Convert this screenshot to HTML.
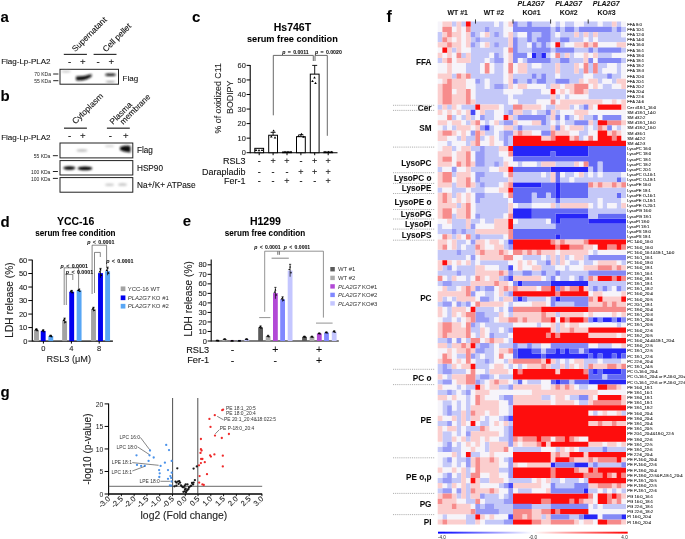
<!DOCTYPE html>
<html><head><meta charset="utf-8"><title>Figure</title>
<style>
html,body{margin:0;padding:0;background:#fff;}
body{width:685px;height:539px;overflow:hidden;}
svg{display:block;font-family:"Liberation Sans",sans-serif;}
</style></head>
<body>
<svg width="685" height="539" viewBox="0 0 685 539">
<defs><filter id="gb" x="0" y="0" width="100%" height="100%" filterUnits="userSpaceOnUse"><feGaussianBlur stdDeviation="0.6"/></filter></defs>
<rect width="685" height="539" fill="#fff"/>
<g filter="url(#gb)">
<text x="0.5" y="21.5" font-size="15" font-weight="bold" stroke="#000" stroke-width="0.06">a</text>
<text x="0.5" y="101.3" font-size="15" font-weight="bold" stroke="#000" stroke-width="0.06">b</text>
<text x="192.0" y="21.8" font-size="15" font-weight="bold" stroke="#000" stroke-width="0.06">c</text>
<text x="0.5" y="226.6" font-size="15" font-weight="bold" stroke="#000" stroke-width="0.06">d</text>
<text x="182.8" y="226.4" font-size="15" font-weight="bold" stroke="#000" stroke-width="0.06">e</text>
<text x="0.5" y="397.3" font-size="15" font-weight="bold" stroke="#000" stroke-width="0.06">g</text>
<text x="386.6" y="22.4" font-size="16" font-weight="bold" stroke="#000" stroke-width="0.06">f</text>
<text transform="translate(75.3,52.3) rotate(-45)" font-size="8.3" fill="#111" stroke="#111" stroke-width="0.1">Supernatant</text>
<text transform="translate(105.9,52.5) rotate(-45)" font-size="8.3" fill="#111" stroke="#111" stroke-width="0.1">Cell pellet</text>
<line x1="63.8" y1="54.4" x2="86.9" y2="54.4" stroke="#333" stroke-width="1.2" />
<line x1="93.6" y1="54.4" x2="116.5" y2="54.4" stroke="#333" stroke-width="1.2" />
<text x="1.2" y="64.2" font-size="8" fill="#111" stroke="#111" stroke-width="0.1">Flag-Lp-PLA2</text>
<text x="69.5" y="65.2" font-size="9.6" text-anchor="middle" fill="#111" stroke="#111" stroke-width="0.1">-</text>
<text x="82.8" y="65.2" font-size="9.6" text-anchor="middle" fill="#111" stroke="#111" stroke-width="0.1">+</text>
<text x="98.1" y="65.2" font-size="9.6" text-anchor="middle" fill="#111" stroke="#111" stroke-width="0.1">-</text>
<text x="111.4" y="65.2" font-size="9.6" text-anchor="middle" fill="#111" stroke="#111" stroke-width="0.1">+</text>
<defs><filter id="bl" x="-50%" y="-50%" width="200%" height="200%"><feGaussianBlur stdDeviation="0.9"/></filter><filter id="bl2" x="-50%" y="-50%" width="200%" height="200%"><feGaussianBlur stdDeviation="1.5"/></filter></defs>
<rect x="60.00" y="69.30" width="58.50" height="14.90" fill="#fff" stroke="#222" stroke-width="1" />
<g filter="url(#bl)">
<ellipse cx="66" cy="71.6" rx="5" ry="0.8" fill="#bbb"/>
<path d="M76 76.6 Q84 76.4 91.6 73.9 L91.6 76.6 Q85 81.6 76 80.2 Z" fill="#111"/>
<ellipse cx="110.5" cy="74.8" rx="5.5" ry="1.3" fill="#111"/>
<ellipse cx="110.5" cy="81.7" rx="5" ry="0.8" fill="#888"/>
</g>
<text x="51.0" y="76.1" font-size="5.0" text-anchor="end" fill="#222" stroke="#222" stroke-width="0.0">70 KDa</text>
<text x="51.0" y="82.8" font-size="5.0" text-anchor="end" fill="#222" stroke="#222" stroke-width="0.0">55 KDa</text>
<line x1="53.2" y1="74.0" x2="58.4" y2="74.0" stroke="#222" stroke-width="1.0" />
<line x1="53.2" y1="80.7" x2="58.4" y2="80.7" stroke="#222" stroke-width="1.0" />
<text x="122.6" y="80.6" font-size="8" fill="#111" stroke="#111" stroke-width="0.1">Flag</text>
<text transform="translate(75.6,124.6) rotate(-45)" font-size="8.4" fill="#111" stroke="#111" stroke-width="0.1">Cytoplasm</text>
<text transform="translate(113.0,124.9) rotate(-45)" font-size="8.3" fill="#111" stroke="#111" stroke-width="0.1">Plasma</text>
<text transform="translate(123.3,124.9) rotate(-45)" font-size="8.2" fill="#111" stroke="#111" stroke-width="0.1">membrane</text>
<line x1="64" y1="128.2" x2="86.9" y2="128.2" stroke="#444" stroke-width="1.4" />
<line x1="106.9" y1="128.2" x2="129.8" y2="128.2" stroke="#444" stroke-width="1.4" />
<text x="1.2" y="140.0" font-size="8" fill="#111" stroke="#111" stroke-width="0.1">Flag-Lp-PLA2</text>
<text x="69.5" y="139.0" font-size="9.6" text-anchor="middle" fill="#111" stroke="#111" stroke-width="0.1">-</text>
<text x="82.8" y="139.0" font-size="9.6" text-anchor="middle" fill="#111" stroke="#111" stroke-width="0.1">+</text>
<text x="110.4" y="139.0" font-size="9.6" text-anchor="middle" fill="#111" stroke="#111" stroke-width="0.1">-</text>
<text x="125.7" y="139.0" font-size="9.6" text-anchor="middle" fill="#111" stroke="#111" stroke-width="0.1">+</text>
<rect x="60.00" y="143.00" width="72.80" height="14.90" fill="#fff" stroke="#222" stroke-width="1" />
<rect x="60.00" y="160.60" width="72.80" height="14.40" fill="#fff" stroke="#222" stroke-width="1" />
<rect x="60.00" y="177.60" width="72.80" height="14.60" fill="#fff" stroke="#222" stroke-width="1" />
<g filter="url(#bl)">
<ellipse cx="82" cy="150.5" rx="5.5" ry="1.2" fill="#bbb"/>
<ellipse cx="109.5" cy="146.2" rx="4.5" ry="0.9" fill="#ccc"/>
<path d="M120 147 Q125 144.5 130.5 146 L130.5 152.5 Q124 152 120 150 Z" fill="#111"/>
<ellipse cx="69.3" cy="167.9" rx="6.0" ry="1.75" fill="#000"/>
<ellipse cx="85.0" cy="168.4" rx="7.3" ry="1.9" fill="#000"/>
<ellipse cx="109.5" cy="184.8" rx="4.5" ry="1.3" fill="#ccc"/>
<ellipse cx="122.5" cy="184.5" rx="4.5" ry="1.6" fill="#ccc"/>
</g>
<text x="50.4" y="157.8" font-size="5.0" text-anchor="end" fill="#222" stroke="#222" stroke-width="0.0">55 KDa</text>
<text x="50.4" y="173.6" font-size="5.0" text-anchor="end" fill="#222" stroke="#222" stroke-width="0.0">100 KDa</text>
<text x="50.4" y="180.6" font-size="5.0" text-anchor="end" fill="#222" stroke="#222" stroke-width="0.0">100 KDa</text>
<line x1="52.9" y1="155.7" x2="57.9" y2="155.7" stroke="#222" stroke-width="1.0" />
<line x1="52.9" y1="171.5" x2="57.9" y2="171.5" stroke="#222" stroke-width="1.0" />
<line x1="52.9" y1="178.4" x2="57.9" y2="178.4" stroke="#222" stroke-width="1.0" />
<text x="137" y="153.2" font-size="8.2" fill="#111" stroke="#111" stroke-width="0.1">Flag</text>
<text x="137" y="170.6" font-size="8.2" fill="#111" stroke="#111" stroke-width="0.1">HSP90</text>
<text x="137" y="188.0" font-size="8.25" fill="#111" stroke="#111" stroke-width="0.1">Na+/K+ ATPase</text>
<text x="292.4" y="30.6" font-size="10.5" font-weight="bold" text-anchor="middle" stroke="#000" stroke-width="0.06">Hs746T</text>
<text x="292.4" y="42.0" font-size="9.2" font-weight="bold" text-anchor="middle" stroke="#000" stroke-width="0.06">serum free condition</text>
<line x1="250.2" y1="65.0" x2="250.2" y2="153.2" stroke="#000" stroke-width="1.1" />
<line x1="246.6" y1="152.7" x2="250.2" y2="152.7" stroke="#000" stroke-width="1" />
<text x="245.79999999999998" y="155.29999999999998" font-size="7.4" text-anchor="end" fill="#222" stroke="#222" stroke-width="0.1">0</text>
<line x1="246.6" y1="138.14999999999998" x2="250.2" y2="138.14999999999998" stroke="#000" stroke-width="1" />
<text x="245.79999999999998" y="140.74999999999997" font-size="7.4" text-anchor="end" fill="#222" stroke="#222" stroke-width="0.1">10</text>
<line x1="246.6" y1="123.6" x2="250.2" y2="123.6" stroke="#000" stroke-width="1" />
<text x="245.79999999999998" y="126.19999999999999" font-size="7.4" text-anchor="end" fill="#222" stroke="#222" stroke-width="0.1">20</text>
<line x1="246.6" y1="109.04999999999998" x2="250.2" y2="109.04999999999998" stroke="#000" stroke-width="1" />
<text x="245.79999999999998" y="111.64999999999998" font-size="7.4" text-anchor="end" fill="#222" stroke="#222" stroke-width="0.1">30</text>
<line x1="246.6" y1="94.5" x2="250.2" y2="94.5" stroke="#000" stroke-width="1" />
<text x="245.79999999999998" y="97.1" font-size="7.4" text-anchor="end" fill="#222" stroke="#222" stroke-width="0.1">40</text>
<line x1="246.6" y1="79.95" x2="250.2" y2="79.95" stroke="#000" stroke-width="1" />
<text x="245.79999999999998" y="82.55" font-size="7.4" text-anchor="end" fill="#222" stroke="#222" stroke-width="0.1">50</text>
<line x1="246.6" y1="65.39999999999999" x2="250.2" y2="65.39999999999999" stroke="#000" stroke-width="1" />
<text x="245.79999999999998" y="67.99999999999999" font-size="7.4" text-anchor="end" fill="#222" stroke="#222" stroke-width="0.1">60</text>
<line x1="250.2" y1="152.7" x2="337.5" y2="152.7" stroke="#000" stroke-width="1.1" />
<text transform="translate(221.0,98.3) rotate(-90)" font-size="8.8" text-anchor="middle" fill="#222" stroke="#222" stroke-width="0.1">% of oxidized C11</text>
<text transform="translate(232.8,97.3) rotate(-90)" font-size="8.8" text-anchor="middle" fill="#222" stroke="#222" stroke-width="0.1">BODIPY</text>
<rect x="254.80" y="148.33" width="8.80" height="4.37" fill="#fff" stroke="#000" stroke-width="1" />
<line x1="259.2" y1="152.7" x2="259.2" y2="155.2" stroke="#000" stroke-width="1" />
<rect x="268.70" y="135.24" width="8.80" height="17.46" fill="#fff" stroke="#000" stroke-width="1" />
<line x1="273.1" y1="135.23999999999998" x2="273.1" y2="132.32999999999998" stroke="#000" stroke-width="0.9" />
<line x1="270.6" y1="132.32999999999998" x2="275.6" y2="132.32999999999998" stroke="#000" stroke-width="0.9" />
<line x1="273.1" y1="152.7" x2="273.1" y2="155.2" stroke="#000" stroke-width="1" />
<rect x="282.60" y="151.97" width="8.80" height="0.73" fill="#fff" stroke="#000" stroke-width="1" />
<line x1="287.0" y1="152.7" x2="287.0" y2="155.2" stroke="#000" stroke-width="1" />
<rect x="296.50" y="136.69" width="8.80" height="16.00" fill="#fff" stroke="#000" stroke-width="1" />
<line x1="300.9" y1="136.695" x2="300.9" y2="134.80349999999999" stroke="#000" stroke-width="0.9" />
<line x1="298.4" y1="134.80349999999999" x2="303.4" y2="134.80349999999999" stroke="#000" stroke-width="0.9" />
<line x1="300.9" y1="152.7" x2="300.9" y2="155.2" stroke="#000" stroke-width="1" />
<rect x="310.30" y="74.13" width="8.80" height="78.57" fill="#fff" stroke="#000" stroke-width="1" />
<line x1="314.7" y1="74.13" x2="314.7" y2="65.39999999999999" stroke="#000" stroke-width="0.9" />
<line x1="312.2" y1="65.39999999999999" x2="317.2" y2="65.39999999999999" stroke="#000" stroke-width="0.9" />
<line x1="314.7" y1="152.7" x2="314.7" y2="155.2" stroke="#000" stroke-width="1" />
<rect x="323.80" y="151.97" width="8.80" height="0.73" fill="#fff" stroke="#000" stroke-width="1" />
<line x1="328.2" y1="152.7" x2="328.2" y2="155.2" stroke="#000" stroke-width="1" />
<path d="M254.7,151.0 L257.3,151.0 L256,148.8 Z" fill="#000"/>
<path d="M257.7,151.2 L260.3,151.2 L259,149.0 Z" fill="#000"/>
<path d="M260.7,151.1 L263.3,151.1 L262,148.9 Z" fill="#000"/>
<path d="M272.3,131.6 L274.90000000000003,131.6 L273.6,129.4 Z" fill="#000"/>
<path d="M270.0,137.5 L272.6,137.5 L271.3,135.3 Z" fill="#000"/>
<path d="M273.7,138.5 L276.3,138.5 L275,136.3 Z" fill="#000"/>
<path d="M283.7,153.0 L286.3,153.0 L285,150.8 Z" fill="#000"/>
<path d="M286.7,153.0 L289.3,153.0 L288,150.8 Z" fill="#000"/>
<path d="M289.7,153.0 L292.3,153.0 L291,150.8 Z" fill="#000"/>
<path d="M297.2,137.0 L299.8,137.0 L298.5,134.8 Z" fill="#000"/>
<path d="M300.2,135.0 L302.8,135.0 L301.5,132.8 Z" fill="#000"/>
<path d="M302.2,137.8 L304.8,137.8 L303.5,135.60000000000002 Z" fill="#000"/>
<path d="M313.2,78.5 L315.8,78.5 L314.5,76.3 Z" fill="#000"/>
<path d="M311.2,82 L313.8,82 L312.5,79.8 Z" fill="#000"/>
<path d="M314.2,84 L316.8,84 L315.5,81.8 Z" fill="#000"/>
<path d="M323.7,153.0 L326.3,153.0 L325,150.8 Z" fill="#000"/>
<path d="M327.2,153.0 L329.8,153.0 L328.5,150.8 Z" fill="#000"/>
<path d="M330.2,153.0 L332.8,153.0 L331.5,150.8 Z" fill="#000"/>
<path d="M273.3 115.3 V55.4 H313.3 V61.0" stroke="#444" stroke-width="0.8" fill="none" />
<path d="M315.0 61.0 V55.4 H327.3 V135.8" stroke="#444" stroke-width="0.8" fill="none" />
<text x="295.5" y="53.6" font-size="5.2" font-weight="bold" text-anchor="middle" fill="#111" stroke="#111" stroke-width="0.06" word-spacing="0.9"><tspan font-style="italic">p</tspan> = 0.0011</text>
<text x="328.4" y="53.6" font-size="5.2" font-weight="bold" text-anchor="middle" fill="#111" stroke="#111" stroke-width="0.06" word-spacing="0.9"><tspan font-style="italic">p</tspan> = 0.0020</text>
<text x="245.6" y="164.0" font-size="9" text-anchor="end" fill="#111" stroke="#111" stroke-width="0.1">RSL3</text>
<text x="245.6" y="174.5" font-size="9" text-anchor="end" fill="#111" stroke="#111" stroke-width="0.1">Darapladib</text>
<text x="245.6" y="183.5" font-size="9" text-anchor="end" fill="#111" stroke="#111" stroke-width="0.1">Fer-1</text>
<text x="259.2" y="164.0" font-size="9" text-anchor="middle" fill="#111" stroke="#111" stroke-width="0.1">-</text>
<text x="273.1" y="164.0" font-size="9" text-anchor="middle" fill="#111" stroke="#111" stroke-width="0.1">+</text>
<text x="287.0" y="164.0" font-size="9" text-anchor="middle" fill="#111" stroke="#111" stroke-width="0.1">+</text>
<text x="300.9" y="164.0" font-size="9" text-anchor="middle" fill="#111" stroke="#111" stroke-width="0.1">-</text>
<text x="314.7" y="164.0" font-size="9" text-anchor="middle" fill="#111" stroke="#111" stroke-width="0.1">+</text>
<text x="328.2" y="164.0" font-size="9" text-anchor="middle" fill="#111" stroke="#111" stroke-width="0.1">+</text>
<text x="259.2" y="174.5" font-size="9" text-anchor="middle" fill="#111" stroke="#111" stroke-width="0.1">-</text>
<text x="273.1" y="174.5" font-size="9" text-anchor="middle" fill="#111" stroke="#111" stroke-width="0.1">-</text>
<text x="287.0" y="174.5" font-size="9" text-anchor="middle" fill="#111" stroke="#111" stroke-width="0.1">-</text>
<text x="300.9" y="174.5" font-size="9" text-anchor="middle" fill="#111" stroke="#111" stroke-width="0.1">+</text>
<text x="314.7" y="174.5" font-size="9" text-anchor="middle" fill="#111" stroke="#111" stroke-width="0.1">+</text>
<text x="328.2" y="174.5" font-size="9" text-anchor="middle" fill="#111" stroke="#111" stroke-width="0.1">+</text>
<text x="259.2" y="183.5" font-size="9" text-anchor="middle" fill="#111" stroke="#111" stroke-width="0.1">-</text>
<text x="273.1" y="183.5" font-size="9" text-anchor="middle" fill="#111" stroke="#111" stroke-width="0.1">-</text>
<text x="287.0" y="183.5" font-size="9" text-anchor="middle" fill="#111" stroke="#111" stroke-width="0.1">+</text>
<text x="300.9" y="183.5" font-size="9" text-anchor="middle" fill="#111" stroke="#111" stroke-width="0.1">-</text>
<text x="314.7" y="183.5" font-size="9" text-anchor="middle" fill="#111" stroke="#111" stroke-width="0.1">-</text>
<text x="328.2" y="183.5" font-size="9" text-anchor="middle" fill="#111" stroke="#111" stroke-width="0.1">+</text>
<text x="75.6" y="225.0" font-size="10.5" font-weight="bold" text-anchor="middle" stroke="#000" stroke-width="0.06">YCC-16</text>
<text x="75.4" y="235.8" font-size="8.15" font-weight="bold" text-anchor="middle" stroke="#000" stroke-width="0.06">serum free condition</text>
<line x1="32.3" y1="259.7" x2="32.3" y2="341.6" stroke="#000" stroke-width="1.1" />
<line x1="28.299999999999997" y1="341.1" x2="32.3" y2="341.1" stroke="#000" stroke-width="1" />
<text x="27.299999999999997" y="343.70000000000005" font-size="7.5" text-anchor="end" fill="#222" stroke="#222" stroke-width="0.1">0</text>
<line x1="28.299999999999997" y1="327.58333333333337" x2="32.3" y2="327.58333333333337" stroke="#000" stroke-width="1" />
<text x="27.299999999999997" y="330.1833333333334" font-size="7.5" text-anchor="end" fill="#222" stroke="#222" stroke-width="0.1">10</text>
<line x1="28.299999999999997" y1="314.06666666666666" x2="32.3" y2="314.06666666666666" stroke="#000" stroke-width="1" />
<text x="27.299999999999997" y="316.6666666666667" font-size="7.5" text-anchor="end" fill="#222" stroke="#222" stroke-width="0.1">20</text>
<line x1="28.299999999999997" y1="300.55" x2="32.3" y2="300.55" stroke="#000" stroke-width="1" />
<text x="27.299999999999997" y="303.15000000000003" font-size="7.5" text-anchor="end" fill="#222" stroke="#222" stroke-width="0.1">30</text>
<line x1="28.299999999999997" y1="287.03333333333336" x2="32.3" y2="287.03333333333336" stroke="#000" stroke-width="1" />
<text x="27.299999999999997" y="289.6333333333334" font-size="7.5" text-anchor="end" fill="#222" stroke="#222" stroke-width="0.1">40</text>
<line x1="28.299999999999997" y1="273.51666666666665" x2="32.3" y2="273.51666666666665" stroke="#000" stroke-width="1" />
<text x="27.299999999999997" y="276.1166666666667" font-size="7.5" text-anchor="end" fill="#222" stroke="#222" stroke-width="0.1">50</text>
<line x1="28.299999999999997" y1="260.0" x2="32.3" y2="260.0" stroke="#000" stroke-width="1" />
<text x="27.299999999999997" y="262.6" font-size="7.5" text-anchor="end" fill="#222" stroke="#222" stroke-width="0.1">60</text>
<line x1="32.3" y1="341.1" x2="112.9" y2="341.1" stroke="#000" stroke-width="1.1" />
<line x1="43.4" y1="341.1" x2="43.4" y2="343.6" stroke="#000" stroke-width="1" />
<text x="43.4" y="350.6" font-size="7.5" text-anchor="middle" fill="#222" stroke="#222" stroke-width="0.1">0</text>
<line x1="71.4" y1="341.1" x2="71.4" y2="343.6" stroke="#000" stroke-width="1" />
<text x="71.4" y="350.6" font-size="7.5" text-anchor="middle" fill="#222" stroke="#222" stroke-width="0.1">4</text>
<line x1="99.2" y1="341.1" x2="99.2" y2="343.6" stroke="#000" stroke-width="1" />
<text x="99.2" y="350.6" font-size="7.5" text-anchor="middle" fill="#222" stroke="#222" stroke-width="0.1">8</text>
<text x="68.8" y="361.8" font-size="9.2" text-anchor="middle" fill="#222" stroke="#222" stroke-width="0.1">RSL3 (μM)</text>
<text transform="translate(12.5,300.0) rotate(-90)" font-size="10.2" text-anchor="middle" fill="#222" stroke="#222" stroke-width="0.1">LDH release (%)</text>
<rect x="34.05" y="329.88" width="4.90" height="11.22" fill="#a3a3a3" />
<rect x="40.75" y="330.96" width="4.90" height="10.14" fill="#0000f0" />
<rect x="48.35" y="335.96" width="4.90" height="5.14" fill="#58a6f5" />
<rect x="62.15" y="320.83" width="4.90" height="20.27" fill="#a3a3a3" />
<rect x="69.25" y="291.76" width="4.90" height="49.34" fill="#0000f0" />
<rect x="76.65" y="290.41" width="4.90" height="50.69" fill="#58a6f5" />
<rect x="91.05" y="309.34" width="4.90" height="31.76" fill="#a3a3a3" />
<rect x="98.05" y="273.11" width="4.90" height="67.99" fill="#0000f0" />
<rect x="105.15" y="271.22" width="4.90" height="69.88" fill="#58a6f5" />
<line x1="36.5" y1="330.82733333333334" x2="36.5" y2="328.935" stroke="#000" stroke-width="0.7" />
<line x1="35.3" y1="328.935" x2="37.7" y2="328.935" stroke="#000" stroke-width="0.7" />
<path d="M34.50,330.50 L36.70,330.50 L35.60,328.60 Z" fill="#000"/>
<path d="M36.20,331.16 L38.40,331.16 L37.30,329.26 Z" fill="#000"/>
<path d="M35.40,330.02 L37.60,330.02 L36.50,328.12 Z" fill="#000"/>
<line x1="43.2" y1="332.04383333333334" x2="43.2" y2="329.8811666666667" stroke="#000" stroke-width="0.7" />
<line x1="42.0" y1="329.8811666666667" x2="44.400000000000006" y2="329.8811666666667" stroke="#000" stroke-width="0.7" />
<path d="M41.20,331.54 L43.40,331.54 L42.30,329.64 Z" fill="#000"/>
<path d="M42.90,332.30 L45.10,332.30 L44.00,330.40 Z" fill="#000"/>
<path d="M42.10,331.00 L44.30,331.00 L43.20,329.10 Z" fill="#000"/>
<line x1="50.8" y1="336.6395" x2="50.8" y2="335.28783333333337" stroke="#000" stroke-width="0.7" />
<line x1="49.599999999999994" y1="335.28783333333337" x2="52.0" y2="335.28783333333337" stroke="#000" stroke-width="0.7" />
<path d="M48.80,336.66 L51.00,336.66 L49.90,334.76 Z" fill="#000"/>
<path d="M50.50,337.13 L52.70,337.13 L51.60,335.23 Z" fill="#000"/>
<path d="M49.70,336.32 L51.90,336.32 L50.80,334.42 Z" fill="#000"/>
<line x1="64.6" y1="323.52833333333336" x2="64.6" y2="318.12166666666667" stroke="#000" stroke-width="0.7" />
<line x1="63.39999999999999" y1="318.12166666666667" x2="65.8" y2="318.12166666666667" stroke="#000" stroke-width="0.7" />
<path d="M62.60,320.91 L64.80,320.91 L63.70,319.01 Z" fill="#000"/>
<path d="M64.30,322.81 L66.50,322.81 L65.40,320.91 Z" fill="#000"/>
<path d="M63.50,319.56 L65.70,319.56 L64.60,317.66 Z" fill="#000"/>
<line x1="71.7" y1="293.11583333333334" x2="71.7" y2="290.4125" stroke="#000" stroke-width="0.7" />
<line x1="70.5" y1="290.4125" x2="72.9" y2="290.4125" stroke="#000" stroke-width="0.7" />
<path d="M69.70,292.26 L71.90,292.26 L70.80,290.36 Z" fill="#000"/>
<path d="M71.40,293.20 L73.60,293.20 L72.50,291.30 Z" fill="#000"/>
<path d="M70.60,291.58 L72.80,291.58 L71.70,289.68 Z" fill="#000"/>
<line x1="79.1" y1="291.76416666666665" x2="79.1" y2="289.06083333333333" stroke="#000" stroke-width="0.7" />
<line x1="77.89999999999999" y1="289.06083333333333" x2="80.3" y2="289.06083333333333" stroke="#000" stroke-width="0.7" />
<path d="M77.10,290.91 L79.30,290.91 L78.20,289.01 Z" fill="#000"/>
<path d="M78.80,291.85 L81.00,291.85 L79.90,289.95 Z" fill="#000"/>
<path d="M78.00,290.23 L80.20,290.23 L79.10,288.33 Z" fill="#000"/>
<line x1="93.5" y1="311.36333333333334" x2="93.5" y2="307.30833333333334" stroke="#000" stroke-width="0.7" />
<line x1="92.3" y1="307.30833333333334" x2="94.7" y2="307.30833333333334" stroke="#000" stroke-width="0.7" />
<path d="M91.50,309.63 L93.70,309.63 L92.60,307.73 Z" fill="#000"/>
<path d="M93.20,311.05 L95.40,311.05 L94.30,309.15 Z" fill="#000"/>
<path d="M92.40,308.61 L94.60,308.61 L93.50,306.71 Z" fill="#000"/>
<line x1="100.5" y1="277.842" x2="100.5" y2="268.38033333333334" stroke="#000" stroke-width="0.7" />
<line x1="99.3" y1="268.38033333333334" x2="101.7" y2="268.38033333333334" stroke="#000" stroke-width="0.7" />
<path d="M98.50,272.59 L100.70,272.59 L99.60,270.69 Z" fill="#000"/>
<path d="M100.20,275.90 L102.40,275.90 L101.30,274.00 Z" fill="#000"/>
<path d="M99.40,270.23 L101.60,270.23 L100.50,268.33 Z" fill="#000"/>
<line x1="107.6" y1="275.2738333333333" x2="107.6" y2="267.16383333333334" stroke="#000" stroke-width="0.7" />
<line x1="106.39999999999999" y1="267.16383333333334" x2="108.8" y2="267.16383333333334" stroke="#000" stroke-width="0.7" />
<path d="M105.60,270.90 L107.80,270.90 L106.70,269.00 Z" fill="#000"/>
<path d="M107.30,273.74 L109.50,273.74 L108.40,271.84 Z" fill="#000"/>
<path d="M106.50,268.87 L108.70,268.87 L107.60,266.97 Z" fill="#000"/>
<path d="M64.2 305 V267.8 H78.6 V288.5" stroke="#555" stroke-width="0.7" fill="none" />
<path d="M66.3 305 V274.4 H72.8 V280" stroke="#555" stroke-width="0.7" fill="none" />
<path d="M92.1 294 V245.2 H106.6 V268" stroke="#555" stroke-width="0.7" fill="none" />
<path d="M94.5 293 V252.4 H100.3 V257" stroke="#555" stroke-width="0.7" fill="none" />
<text x="74.2" y="267.9" font-size="5.3" font-weight="bold" text-anchor="middle" fill="#111" stroke="#111" stroke-width="0.06" word-spacing="0.9"><tspan font-style="italic">p</tspan> &lt; 0.0001</text>
<text x="79.5" y="273.5" font-size="5.3" font-weight="bold" text-anchor="middle" fill="#111" stroke="#111" stroke-width="0.06" word-spacing="0.9"><tspan font-style="italic">p</tspan> &lt; 0.0001</text>
<text x="100.8" y="243.6" font-size="5.3" font-weight="bold" text-anchor="middle" fill="#111" stroke="#111" stroke-width="0.06" word-spacing="0.9"><tspan font-style="italic">p</tspan> &lt; 0.0001</text>
<text x="119.8" y="262.5" font-size="5.3" font-weight="bold" text-anchor="middle" fill="#111" stroke="#111" stroke-width="0.06" word-spacing="0.9"><tspan font-style="italic">p</tspan> &lt; 0.0001</text>
<rect x="120.70" y="286.45" width="4.70" height="4.70" fill="#a3a3a3" />
<text x="127.8" y="290.90000000000003" font-size="5.95" fill="#333" stroke="#333" stroke-width="0.0">YCC-16 WT</text>
<rect x="120.70" y="295.45" width="4.70" height="4.70" fill="#0000f0" />
<text x="127.8" y="299.90000000000003" font-size="5.95" fill="#333" stroke="#333" stroke-width="0.0"><tspan font-style="italic">PLA2G7</tspan> KO #1</text>
<rect x="120.70" y="303.85" width="4.70" height="4.70" fill="#58a6f5" />
<text x="127.8" y="308.3" font-size="5.95" fill="#333" stroke="#333" stroke-width="0.0"><tspan font-style="italic">PLA2G7</tspan> KO #2</text>
<text x="265.4" y="225.3" font-size="10.5" font-weight="bold" text-anchor="middle" stroke="#000" stroke-width="0.06">H1299</text>
<text x="265.0" y="235.8" font-size="8.15" font-weight="bold" text-anchor="middle" stroke="#000" stroke-width="0.06">serum free condition</text>
<line x1="211.2" y1="259.5" x2="211.2" y2="341.5" stroke="#000" stroke-width="1.1" />
<line x1="207.6" y1="341.0" x2="211.2" y2="341.0" stroke="#000" stroke-width="1" />
<text x="206.79999999999998" y="343.6" font-size="7.5" text-anchor="end" fill="#222" stroke="#222" stroke-width="0.1">0</text>
<line x1="207.6" y1="331.475" x2="211.2" y2="331.475" stroke="#000" stroke-width="1" />
<text x="206.79999999999998" y="334.07500000000005" font-size="7.5" text-anchor="end" fill="#222" stroke="#222" stroke-width="0.1">10</text>
<line x1="207.6" y1="321.95" x2="211.2" y2="321.95" stroke="#000" stroke-width="1" />
<text x="206.79999999999998" y="324.55" font-size="7.5" text-anchor="end" fill="#222" stroke="#222" stroke-width="0.1">20</text>
<line x1="207.6" y1="312.425" x2="211.2" y2="312.425" stroke="#000" stroke-width="1" />
<text x="206.79999999999998" y="315.02500000000003" font-size="7.5" text-anchor="end" fill="#222" stroke="#222" stroke-width="0.1">30</text>
<line x1="207.6" y1="302.9" x2="211.2" y2="302.9" stroke="#000" stroke-width="1" />
<text x="206.79999999999998" y="305.5" font-size="7.5" text-anchor="end" fill="#222" stroke="#222" stroke-width="0.1">40</text>
<line x1="207.6" y1="293.375" x2="211.2" y2="293.375" stroke="#000" stroke-width="1" />
<text x="206.79999999999998" y="295.975" font-size="7.5" text-anchor="end" fill="#222" stroke="#222" stroke-width="0.1">50</text>
<line x1="207.6" y1="283.85" x2="211.2" y2="283.85" stroke="#000" stroke-width="1" />
<text x="206.79999999999998" y="286.45000000000005" font-size="7.5" text-anchor="end" fill="#222" stroke="#222" stroke-width="0.1">60</text>
<line x1="207.6" y1="274.325" x2="211.2" y2="274.325" stroke="#000" stroke-width="1" />
<text x="206.79999999999998" y="276.925" font-size="7.5" text-anchor="end" fill="#222" stroke="#222" stroke-width="0.1">70</text>
<line x1="207.6" y1="264.8" x2="211.2" y2="264.8" stroke="#000" stroke-width="1" />
<text x="206.79999999999998" y="267.40000000000003" font-size="7.5" text-anchor="end" fill="#222" stroke="#222" stroke-width="0.1">80</text>
<line x1="211.2" y1="341.0" x2="338.8" y2="341.0" stroke="#000" stroke-width="1.1" />
<text transform="translate(191.8,298.8) rotate(-90)" font-size="10.2" text-anchor="middle" fill="#222" stroke="#222" stroke-width="0.1">LDH release (%)</text>
<rect x="215.10" y="340.52" width="4.80" height="0.48" fill="#5a5a5a" />
<line x1="217.5" y1="340.8095" x2="217.5" y2="340.238" stroke="#000" stroke-width="0.7" />
<line x1="216.4" y1="340.238" x2="218.6" y2="340.238" stroke="#000" stroke-width="0.7" />
<path d="M215.60,341.27 L217.60,341.27 L216.60,339.57 Z" fill="#000"/>
<path d="M217.40,341.41 L219.40,341.41 L218.40,339.71 Z" fill="#000"/>
<path d="M216.50,341.15 L218.50,341.15 L217.50,339.45 Z" fill="#000"/>
<rect x="222.40" y="339.29" width="4.80" height="1.71" fill="#ababab" />
<line x1="224.8" y1="339.76175" x2="224.8" y2="338.80925" stroke="#000" stroke-width="0.7" />
<line x1="223.70000000000002" y1="338.80925" x2="225.9" y2="338.80925" stroke="#000" stroke-width="0.7" />
<path d="M222.90,339.99 L224.90,339.99 L223.90,338.29 Z" fill="#000"/>
<path d="M224.70,340.23 L226.70,340.23 L225.70,338.53 Z" fill="#000"/>
<path d="M223.80,339.80 L225.80,339.80 L224.80,338.10 Z" fill="#000"/>
<rect x="229.70" y="340.71" width="4.80" height="0.29" fill="#b24ad6" />
<line x1="232.1" y1="340.90475" x2="232.1" y2="340.52375" stroke="#000" stroke-width="0.7" />
<line x1="231.0" y1="340.52375" x2="233.2" y2="340.52375" stroke="#000" stroke-width="0.7" />
<path d="M230.20,341.48 L232.20,341.48 L231.20,339.78 Z" fill="#000"/>
<path d="M232.00,341.57 L234.00,341.57 L233.00,339.87 Z" fill="#000"/>
<path d="M231.10,341.40 L233.10,341.40 L232.10,339.70 Z" fill="#000"/>
<rect x="237.00" y="340.71" width="4.80" height="0.29" fill="#8088ff" />
<line x1="239.4" y1="340.90475" x2="239.4" y2="340.52375" stroke="#000" stroke-width="0.7" />
<line x1="238.3" y1="340.52375" x2="240.5" y2="340.52375" stroke="#000" stroke-width="0.7" />
<path d="M237.50,341.48 L239.50,341.48 L238.50,339.78 Z" fill="#000"/>
<path d="M239.30,341.57 L241.30,341.57 L240.30,339.87 Z" fill="#000"/>
<path d="M238.40,341.40 L240.40,341.40 L239.40,339.70 Z" fill="#000"/>
<rect x="244.30" y="339.29" width="4.80" height="1.71" fill="#c4c6ff" />
<line x1="246.7" y1="339.76175" x2="246.7" y2="338.80925" stroke="#000" stroke-width="0.7" />
<line x1="245.6" y1="338.80925" x2="247.79999999999998" y2="338.80925" stroke="#000" stroke-width="0.7" />
<path d="M244.80,339.99 L246.80,339.99 L245.80,338.29 Z" fill="#000"/>
<path d="M246.60,340.23 L248.60,340.23 L247.60,338.53 Z" fill="#000"/>
<path d="M245.70,339.80 L247.70,339.80 L246.70,338.10 Z" fill="#000"/>
<rect x="258.20" y="327.38" width="4.80" height="13.62" fill="#5a5a5a" />
<line x1="260.6" y1="328.808" x2="260.6" y2="325.9505" stroke="#000" stroke-width="0.7" />
<line x1="259.5" y1="325.9505" x2="261.70000000000005" y2="325.9505" stroke="#000" stroke-width="0.7" />
<path d="M258.70,327.89 L260.70,327.89 L259.70,326.19 Z" fill="#000"/>
<path d="M260.50,328.61 L262.50,328.61 L261.50,326.91 Z" fill="#000"/>
<path d="M259.60,327.32 L261.60,327.32 L260.60,325.62 Z" fill="#000"/>
<rect x="265.70" y="336.24" width="4.80" height="4.76" fill="#ababab" />
<line x1="268.1" y1="337.19" x2="268.1" y2="335.285" stroke="#000" stroke-width="0.7" />
<line x1="267.0" y1="335.285" x2="269.20000000000005" y2="335.285" stroke="#000" stroke-width="0.7" />
<path d="M266.20,336.85 L268.20,336.85 L267.20,335.15 Z" fill="#000"/>
<path d="M268.00,337.32 L270.00,337.32 L269.00,335.62 Z" fill="#000"/>
<path d="M267.10,336.47 L269.10,336.47 L268.10,334.77 Z" fill="#000"/>
<rect x="273.00" y="293.09" width="4.80" height="47.91" fill="#b24ad6" />
<line x1="275.4" y1="298.80425" x2="275.4" y2="287.37425" stroke="#000" stroke-width="0.7" />
<line x1="274.29999999999995" y1="287.37425" x2="276.5" y2="287.37425" stroke="#000" stroke-width="0.7" />
<path d="M273.50,292.75 L275.50,292.75 L274.50,291.05 Z" fill="#000"/>
<path d="M275.30,295.60 L277.30,295.60 L276.30,293.90 Z" fill="#000"/>
<path d="M274.40,290.46 L276.40,290.46 L275.40,288.76 Z" fill="#000"/>
<rect x="280.20" y="299.19" width="4.80" height="41.81" fill="#8088ff" />
<line x1="282.6" y1="301.5665" x2="282.6" y2="296.80400000000003" stroke="#000" stroke-width="0.7" />
<line x1="281.5" y1="296.80400000000003" x2="283.70000000000005" y2="296.80400000000003" stroke="#000" stroke-width="0.7" />
<path d="M280.70,299.51 L282.70,299.51 L281.70,297.81 Z" fill="#000"/>
<path d="M282.50,300.70 L284.50,300.70 L283.50,299.00 Z" fill="#000"/>
<path d="M281.60,298.56 L283.60,298.56 L282.60,296.86 Z" fill="#000"/>
<rect x="287.70" y="270.51" width="4.80" height="70.49" fill="#c4c6ff" />
<line x1="290.1" y1="276.70625" x2="290.1" y2="264.32375" stroke="#000" stroke-width="0.7" />
<line x1="289.0" y1="264.32375" x2="291.20000000000005" y2="264.32375" stroke="#000" stroke-width="0.7" />
<path d="M288.20,270.08 L290.20,270.08 L289.20,268.38 Z" fill="#000"/>
<path d="M290.00,273.17 L292.00,273.17 L291.00,271.47 Z" fill="#000"/>
<path d="M289.10,267.60 L291.10,267.60 L290.10,265.90 Z" fill="#000"/>
<rect x="302.10" y="336.81" width="4.80" height="4.19" fill="#5a5a5a" />
<line x1="304.5" y1="337.3805" x2="304.5" y2="336.2375" stroke="#000" stroke-width="0.7" />
<line x1="303.4" y1="336.2375" x2="305.6" y2="336.2375" stroke="#000" stroke-width="0.7" />
<path d="M302.60,337.49 L304.60,337.49 L303.60,335.79 Z" fill="#000"/>
<path d="M304.40,337.78 L306.40,337.78 L305.40,336.08 Z" fill="#000"/>
<path d="M303.50,337.27 L305.50,337.27 L304.50,335.57 Z" fill="#000"/>
<rect x="309.60" y="336.81" width="4.80" height="4.19" fill="#ababab" />
<line x1="312.0" y1="337.3805" x2="312.0" y2="336.2375" stroke="#000" stroke-width="0.7" />
<line x1="310.9" y1="336.2375" x2="313.1" y2="336.2375" stroke="#000" stroke-width="0.7" />
<path d="M310.10,337.49 L312.10,337.49 L311.10,335.79 Z" fill="#000"/>
<path d="M311.90,337.78 L313.90,337.78 L312.90,336.08 Z" fill="#000"/>
<path d="M311.00,337.27 L313.00,337.27 L312.00,335.57 Z" fill="#000"/>
<rect x="316.90" y="333.48" width="4.80" height="7.52" fill="#b24ad6" />
<line x1="319.3" y1="333.9515" x2="319.3" y2="332.999" stroke="#000" stroke-width="0.7" />
<line x1="318.2" y1="332.999" x2="320.40000000000003" y2="332.999" stroke="#000" stroke-width="0.7" />
<path d="M317.40,334.18 L319.40,334.18 L318.40,332.48 Z" fill="#000"/>
<path d="M319.20,334.42 L321.20,334.42 L320.20,332.72 Z" fill="#000"/>
<path d="M318.30,333.99 L320.30,333.99 L319.30,332.29 Z" fill="#000"/>
<rect x="324.10" y="332.62" width="4.80" height="8.38" fill="#8088ff" />
<line x1="326.5" y1="333.28475" x2="326.5" y2="331.95125" stroke="#000" stroke-width="0.7" />
<line x1="325.4" y1="331.95125" x2="327.6" y2="331.95125" stroke="#000" stroke-width="0.7" />
<path d="M324.60,333.28 L326.60,333.28 L325.60,331.58 Z" fill="#000"/>
<path d="M326.40,333.62 L328.40,333.62 L327.40,331.92 Z" fill="#000"/>
<path d="M325.50,333.02 L327.50,333.02 L326.50,331.32 Z" fill="#000"/>
<rect x="331.80" y="331.76" width="4.80" height="9.24" fill="#c4c6ff" />
<line x1="334.2" y1="332.71325" x2="334.2" y2="330.80825" stroke="#000" stroke-width="0.7" />
<line x1="333.09999999999997" y1="330.80825" x2="335.3" y2="330.80825" stroke="#000" stroke-width="0.7" />
<path d="M332.30,332.37 L334.30,332.37 L333.30,330.67 Z" fill="#000"/>
<path d="M334.10,332.85 L336.10,332.85 L335.10,331.15 Z" fill="#000"/>
<path d="M333.20,331.99 L335.20,331.99 L334.20,330.29 Z" fill="#000"/>
<path d="M264.7 311.8 V251.2 H323.4 V317.6" stroke="#777" stroke-width="0.8" fill="none" />
<line x1="259.2" y1="317.6" x2="270.4" y2="317.6" stroke="#777" stroke-width="0.8" />
<line x1="316.0" y1="323.1" x2="332.6" y2="323.1" stroke="#777" stroke-width="0.8" />
<line x1="271.6" y1="258.2" x2="288.8" y2="258.2" stroke="#666" stroke-width="0.8" />
<line x1="277.8" y1="251.3" x2="277.8" y2="254.8" stroke="#444" stroke-width="0.75" />
<line x1="279.4" y1="251.3" x2="279.4" y2="254.8" stroke="#444" stroke-width="0.75" />
<text x="267.4" y="248.9" font-size="5.1" font-weight="bold" text-anchor="middle" fill="#111" stroke="#111" stroke-width="0.06" word-spacing="0.9"><tspan font-style="italic">p</tspan> &lt; 0.0001</text>
<text x="297.0" y="248.9" font-size="5.1" font-weight="bold" text-anchor="middle" fill="#111" stroke="#111" stroke-width="0.06" word-spacing="0.9"><tspan font-style="italic">p</tspan> &lt; 0.0001</text>
<text x="209.2" y="352.6" font-size="9.2" text-anchor="end" fill="#111" stroke="#111" stroke-width="0.1">RSL3</text>
<text x="209.2" y="363.2" font-size="9.2" text-anchor="end" fill="#111" stroke="#111" stroke-width="0.1">Fer-1</text>
<text x="232.6" y="353.2" font-size="10.5" text-anchor="middle" fill="#111" stroke="#111" stroke-width="0.1">-</text>
<text x="232.6" y="363.8" font-size="10.5" text-anchor="middle" fill="#111" stroke="#111" stroke-width="0.1">-</text>
<text x="275.3" y="353.2" font-size="10.5" text-anchor="middle" fill="#111" stroke="#111" stroke-width="0.1">+</text>
<text x="275.3" y="363.8" font-size="10.5" text-anchor="middle" fill="#111" stroke="#111" stroke-width="0.1">-</text>
<text x="319.0" y="353.2" font-size="10.5" text-anchor="middle" fill="#111" stroke="#111" stroke-width="0.1">+</text>
<text x="319.0" y="363.8" font-size="10.5" text-anchor="middle" fill="#111" stroke="#111" stroke-width="0.1">+</text>
<rect x="330.30" y="267.00" width="4.50" height="4.40" fill="#5a5a5a" />
<text x="338.0" y="271.3" font-size="5.95" fill="#333" stroke="#333" stroke-width="0.0">WT #1</text>
<rect x="330.30" y="275.70" width="4.50" height="4.40" fill="#ababab" />
<text x="338.0" y="280.0" font-size="5.95" fill="#333" stroke="#333" stroke-width="0.0">WT #2</text>
<rect x="330.30" y="284.20" width="4.50" height="4.40" fill="#b24ad6" />
<text x="338.0" y="288.5" font-size="5.95" fill="#333" stroke="#333" stroke-width="0.0"><tspan font-style="italic">PLA2G7</tspan> KO#1</text>
<rect x="330.30" y="292.70" width="4.50" height="4.40" fill="#8088ff" />
<text x="338.0" y="297.0" font-size="5.95" fill="#333" stroke="#333" stroke-width="0.0"><tspan font-style="italic">PLA2G7</tspan> KO#2</text>
<rect x="330.30" y="301.20" width="4.50" height="4.40" fill="#c4c6ff" />
<text x="338.0" y="305.5" font-size="5.95" fill="#333" stroke="#333" stroke-width="0.0"><tspan font-style="italic">PLA2G7</tspan> KO#3</text>
<line x1="108.6" y1="403.5" x2="108.6" y2="494.5" stroke="#000" stroke-width="1.1" />
<line x1="104.6" y1="494.0" x2="108.6" y2="494.0" stroke="#000" stroke-width="1" />
<text x="103.19999999999999" y="497.0" font-size="6.8" text-anchor="end" fill="#222" stroke="#222" stroke-width="0.0">0</text>
<line x1="104.6" y1="471.475" x2="108.6" y2="471.475" stroke="#000" stroke-width="1" />
<text x="103.19999999999999" y="474.475" font-size="6.8" text-anchor="end" fill="#222" stroke="#222" stroke-width="0.0">5</text>
<line x1="104.6" y1="448.95" x2="108.6" y2="448.95" stroke="#000" stroke-width="1" />
<text x="103.19999999999999" y="451.95" font-size="6.8" text-anchor="end" fill="#222" stroke="#222" stroke-width="0.0">10</text>
<line x1="104.6" y1="426.42499999999995" x2="108.6" y2="426.42499999999995" stroke="#000" stroke-width="1" />
<text x="103.19999999999999" y="429.42499999999995" font-size="6.8" text-anchor="end" fill="#222" stroke="#222" stroke-width="0.0">15</text>
<line x1="104.6" y1="403.9" x2="108.6" y2="403.9" stroke="#000" stroke-width="1" />
<text x="103.19999999999999" y="406.9" font-size="6.8" text-anchor="end" fill="#222" stroke="#222" stroke-width="0.0">20</text>
<line x1="108.6" y1="494.0" x2="262.2" y2="494.0" stroke="#000" stroke-width="1.3" />
<line x1="108.60000000000001" y1="494.0" x2="108.60000000000001" y2="496.2" stroke="#000" stroke-width="0.9" />
<text transform="translate(110.6,499.2) rotate(-45)" font-size="7.5" text-anchor="end" fill="#222" stroke="#222" stroke-width="0.1">-3.0</text>
<line x1="121.375" y1="494.0" x2="121.375" y2="496.2" stroke="#000" stroke-width="0.9" />
<text transform="translate(123.38,499.2) rotate(-45)" font-size="7.5" text-anchor="end" fill="#222" stroke="#222" stroke-width="0.1">-2.5</text>
<line x1="134.15" y1="494.0" x2="134.15" y2="496.2" stroke="#000" stroke-width="0.9" />
<text transform="translate(136.15,499.2) rotate(-45)" font-size="7.5" text-anchor="end" fill="#222" stroke="#222" stroke-width="0.1">-2.0</text>
<line x1="146.925" y1="494.0" x2="146.925" y2="496.2" stroke="#000" stroke-width="0.9" />
<text transform="translate(148.93,499.2) rotate(-45)" font-size="7.5" text-anchor="end" fill="#222" stroke="#222" stroke-width="0.1">-1.5</text>
<line x1="159.7" y1="494.0" x2="159.7" y2="496.2" stroke="#000" stroke-width="0.9" />
<text transform="translate(161.7,499.2) rotate(-45)" font-size="7.5" text-anchor="end" fill="#222" stroke="#222" stroke-width="0.1">-1.0</text>
<line x1="172.475" y1="494.0" x2="172.475" y2="496.2" stroke="#000" stroke-width="0.9" />
<text transform="translate(174.47,499.2) rotate(-45)" font-size="7.5" text-anchor="end" fill="#222" stroke="#222" stroke-width="0.1">-0.5</text>
<line x1="185.25" y1="494.0" x2="185.25" y2="496.2" stroke="#000" stroke-width="0.9" />
<text transform="translate(187.25,499.2) rotate(-45)" font-size="7.5" text-anchor="end" fill="#222" stroke="#222" stroke-width="0.1">0.0</text>
<line x1="198.025" y1="494.0" x2="198.025" y2="496.2" stroke="#000" stroke-width="0.9" />
<text transform="translate(200.03,499.2) rotate(-45)" font-size="7.5" text-anchor="end" fill="#222" stroke="#222" stroke-width="0.1">0.5</text>
<line x1="210.8" y1="494.0" x2="210.8" y2="496.2" stroke="#000" stroke-width="0.9" />
<text transform="translate(212.8,499.2) rotate(-45)" font-size="7.5" text-anchor="end" fill="#222" stroke="#222" stroke-width="0.1">1.0</text>
<line x1="223.575" y1="494.0" x2="223.575" y2="496.2" stroke="#000" stroke-width="0.9" />
<text transform="translate(225.57,499.2) rotate(-45)" font-size="7.5" text-anchor="end" fill="#222" stroke="#222" stroke-width="0.1">1.5</text>
<line x1="236.35" y1="494.0" x2="236.35" y2="496.2" stroke="#000" stroke-width="0.9" />
<text transform="translate(238.35,499.2) rotate(-45)" font-size="7.5" text-anchor="end" fill="#222" stroke="#222" stroke-width="0.1">2.0</text>
<line x1="249.125" y1="494.0" x2="249.125" y2="496.2" stroke="#000" stroke-width="0.9" />
<text transform="translate(251.12,499.2) rotate(-45)" font-size="7.5" text-anchor="end" fill="#222" stroke="#222" stroke-width="0.1">2.5</text>
<line x1="261.9" y1="494.0" x2="261.9" y2="496.2" stroke="#000" stroke-width="0.9" />
<text transform="translate(263.9,499.2) rotate(-45)" font-size="7.5" text-anchor="end" fill="#222" stroke="#222" stroke-width="0.1">3.0</text>
<text x="183.9" y="519.2" font-size="10.4" text-anchor="middle" fill="#222" stroke="#222" stroke-width="0.1">log2 (Fold change)</text>
<text transform="translate(90.5,449.1) rotate(-90)" font-size="10.2" text-anchor="middle" fill="#222" stroke="#222" stroke-width="0.1">-log10 (p-value)</text>
<line x1="172.6" y1="398.0" x2="172.6" y2="494.0" stroke="#222" stroke-width="0.8" />
<line x1="197.8" y1="398.0" x2="197.8" y2="494.0" stroke="#222" stroke-width="0.8" />
<line x1="108.6" y1="486.3" x2="262.2" y2="486.3" stroke="#444" stroke-width="0.8" />
<g fill="#4a92ea"><circle cx="166.2" cy="444.9" r="1.15"/><circle cx="169" cy="450.1" r="1.15"/><circle cx="150" cy="450.5" r="1.15"/><circle cx="149.5" cy="455.3" r="1.15"/><circle cx="153.7" cy="457.5" r="1.15"/><circle cx="136.5" cy="455.3" r="1.15"/><circle cx="148.6" cy="460.9" r="1.15"/><circle cx="137" cy="464.9" r="1.15"/><circle cx="141.1" cy="465.9" r="1.15"/><circle cx="144.8" cy="465.9" r="1.15"/><circle cx="160.6" cy="465.9" r="1.15"/><circle cx="164.9" cy="462.7" r="1.15"/><circle cx="171.7" cy="460.9" r="1.15"/><circle cx="159.1" cy="470.1" r="1.15"/><circle cx="168" cy="470.1" r="1.15"/><circle cx="159.7" cy="473.3" r="1.15"/><circle cx="171.7" cy="472.7" r="1.15"/><circle cx="159.3" cy="477" r="1.15"/><circle cx="170.4" cy="476.1" r="1.15"/><circle cx="168" cy="478.8" r="1.15"/><circle cx="171.2" cy="477.9" r="1.15"/><circle cx="169.9" cy="485.3" r="1.15"/><circle cx="171.2" cy="485.7" r="1.15"/><circle cx="171.5" cy="481.5" r="1.15"/></g>
<g fill="#ee2b2b"><circle cx="222.2" cy="410.2" r="1.15"/><circle cx="223.1" cy="409.6" r="1.15"/><circle cx="214.8" cy="415.2" r="1.15"/><circle cx="209.4" cy="418.9" r="1.15"/><circle cx="210.5" cy="426.9" r="1.15"/><circle cx="215" cy="435.6" r="1.15"/><circle cx="221.8" cy="438" r="1.15"/><circle cx="228.9" cy="434" r="1.15"/><circle cx="200.9" cy="439" r="1.15"/><circle cx="200.9" cy="449.2" r="1.15"/><circle cx="201.6" cy="450.5" r="1.15"/><circle cx="200.5" cy="452.9" r="1.15"/><circle cx="210.1" cy="455.3" r="1.15"/><circle cx="210.9" cy="456.6" r="1.15"/><circle cx="214.4" cy="454.4" r="1.15"/><circle cx="222.8" cy="455.7" r="1.15"/><circle cx="222.8" cy="466.4" r="1.15"/><circle cx="201.1" cy="459" r="1.15"/><circle cx="202.4" cy="459" r="1.15"/><circle cx="204.8" cy="462.2" r="1.15"/><circle cx="200.9" cy="463.1" r="1.15"/><circle cx="199" cy="465.3" r="1.15"/><circle cx="207" cy="474.2" r="1.15"/><circle cx="199.6" cy="476.1" r="1.15"/><circle cx="199.2" cy="482.6" r="1.15"/><circle cx="202.4" cy="484.4" r="1.15"/><circle cx="203.8" cy="485" r="1.15"/></g>
<g fill="#1a1a1a"><circle cx="177.3" cy="468.3" r="1.15"/><circle cx="193.6" cy="468.6" r="1.15"/><circle cx="196.8" cy="466.4" r="1.15"/><circle cx="194.9" cy="480.1" r="1.15"/><circle cx="193.6" cy="482.6" r="1.15"/><circle cx="175.5" cy="481.6" r="1.15"/><circle cx="176.4" cy="482.6" r="1.15"/><circle cx="177.9" cy="481.6" r="1.15"/><circle cx="179.2" cy="481.1" r="1.15"/><circle cx="180.1" cy="482.6" r="1.15"/><circle cx="178.6" cy="483.9" r="1.15"/><circle cx="181" cy="485.3" r="1.15"/><circle cx="181.9" cy="486.3" r="1.15"/><circle cx="183.8" cy="487.2" r="1.15"/><circle cx="184.7" cy="485.7" r="1.15"/><circle cx="185.7" cy="488.7" r="1.15"/><circle cx="186.6" cy="490.9" r="1.15"/><circle cx="184.7" cy="491.3" r="1.15"/><circle cx="183.4" cy="491.8" r="1.15"/><circle cx="187.5" cy="490" r="1.15"/><circle cx="189" cy="487.2" r="1.15"/><circle cx="190.3" cy="486.3" r="1.15"/><circle cx="191.2" cy="485.7" r="1.15"/><circle cx="193.1" cy="484.4" r="1.15"/><circle cx="187.5" cy="484.4" r="1.15"/><circle cx="185.7" cy="484.4" r="1.15"/><circle cx="182.9" cy="487.2" r="1.15"/><circle cx="176.4" cy="485.7" r="1.15"/><circle cx="174.5" cy="486.3" r="1.15"/><circle cx="186.0" cy="492.5" r="1.15"/><circle cx="188.5" cy="489.0" r="1.15"/><circle cx="185.0" cy="489.5" r="1.15"/><circle cx="192.0" cy="483.0" r="1.15"/></g>
<text x="226.1" y="410.0" font-size="4.9" fill="#333" stroke="#333" stroke-width="0.0">PE 18:1_20:5</text>
<text x="226.1" y="415.1" font-size="4.9" fill="#333" stroke="#333" stroke-width="0.0">PE 18:0_20:4</text>
<text x="224.0" y="421.2" font-size="4.9" fill="#333" stroke="#333" stroke-width="0.0">PE 20:1_20:4&amp;18:022:5</text>
<text x="219.8" y="429.5" font-size="4.9" fill="#333" stroke="#333" stroke-width="0.0">PE P-18:0_20:4</text>
<line x1="217.2" y1="416.3" x2="223.5" y2="419.8" stroke="#333" stroke-width="0.6" />
<line x1="215.3" y1="433.8" x2="219.4" y2="429.6" stroke="#333" stroke-width="0.6" />
<text x="140.0" y="439.0" font-size="4.9" text-anchor="end" fill="#333" stroke="#333" stroke-width="0.0">LPC 16:0</text>
<text x="137.0" y="448.5" font-size="4.9" text-anchor="end" fill="#333" stroke="#333" stroke-width="0.0">LPC 18:0</text>
<text x="131.9" y="464.3" font-size="4.9" text-anchor="end" fill="#333" stroke="#333" stroke-width="0.0">LPE 18:1</text>
<text x="131.9" y="473.6" font-size="4.9" text-anchor="end" fill="#333" stroke="#333" stroke-width="0.0">LPC 18:1</text>
<text x="159.7" y="482.9" font-size="4.9" text-anchor="end" fill="#333" stroke="#333" stroke-width="0.0">LPE 18:0</text>
<line x1="140.4" y1="437.4" x2="149.5" y2="449.5" stroke="#333" stroke-width="0.6" />
<line x1="137.4" y1="446.8" x2="149.3" y2="454.5" stroke="#333" stroke-width="0.6" />
<line x1="132.3" y1="462.6" x2="158.6" y2="465.3" stroke="#333" stroke-width="0.6" />
<line x1="132.3" y1="471.0" x2="144.6" y2="466.4" stroke="#333" stroke-width="0.6" />
<line x1="160.4" y1="481.3" x2="169.9" y2="481.3" stroke="#333" stroke-width="0.6" />
<g>
<path fill="#2628f8" d="M531.85 52.71h4.71v5.21h-4.71zM541.26 52.71h4.71v5.21h-4.71zM513.02 146.05h75.32v5.21h-75.32zM513.02 151.24h37.66v5.21h-37.66zM555.39 151.24h32.95v5.21h-32.95zM550.68 166.80h37.66v5.21h-37.66zM513.02 182.35h28.25v5.21h-28.25zM555.39 182.35h4.71v5.21h-4.71zM555.39 187.54h4.71v5.21h-4.71zM555.39 192.72h4.71v5.21h-4.71zM513.02 208.28h18.83v5.21h-18.83zM513.02 213.47h18.83v5.21h-18.83zM555.39 213.47h32.95v5.21h-32.95zM555.39 218.65h4.71v5.21h-4.71zM588.34 218.65h37.66v5.21h-37.66zM555.39 234.21h4.71v5.21h-4.71zM517.73 280.88h4.71v5.21h-4.71zM550.68 280.88h37.66v5.21h-37.66zM517.73 296.44h4.71v5.21h-4.71zM555.39 296.44h4.71v5.21h-4.71zM593.05 317.18h4.71v5.21h-4.71zM602.46 317.18h9.42v5.21h-9.42zM616.59 317.18h4.71v5.21h-4.71zM517.73 348.29h14.12v5.21h-14.12zM555.39 348.29h4.71v5.21h-4.71zM564.80 348.29h4.71v5.21h-4.71zM588.34 348.29h37.66v5.21h-37.66zM517.73 353.48h23.54v5.21h-23.54zM545.97 353.48h42.37v5.21h-42.37zM593.05 353.48h4.71v5.21h-4.71zM602.46 353.48h9.42v5.21h-9.42zM616.59 353.48h4.71v5.21h-4.71zM593.05 369.03h4.71v5.21h-4.71zM602.46 369.03h18.83v5.21h-18.83zM555.39 379.40h4.71v5.21h-4.71zM588.34 379.40h37.66v5.21h-37.66zM550.68 462.37h4.71v5.21h-4.71zM574.22 462.37h14.12v5.21h-14.12zM583.63 488.30h4.71v5.21h-4.71zM583.63 514.23h14.12v5.21h-14.12zM621.29 514.23h4.71v5.21h-4.71z"/>
<path fill="#646af5" d="M588.34 146.05h37.66v5.21h-37.66zM550.68 151.24h4.71v5.21h-4.71zM588.34 151.24h37.66v5.21h-37.66zM513.02 156.42h112.98v5.21h-112.98zM588.34 161.61h9.42v5.21h-9.42zM602.46 161.61h23.54v5.21h-23.54zM513.02 166.80h37.66v5.21h-37.66zM593.05 166.80h4.71v5.21h-4.71zM602.46 166.80h23.54v5.21h-23.54zM555.39 171.98h4.71v5.21h-4.71zM555.39 177.17h4.71v5.21h-4.71zM616.59 177.17h4.71v5.21h-4.71zM541.26 182.35h14.12v5.21h-14.12zM560.10 182.35h28.25v5.21h-28.25zM513.02 187.54h42.37v5.21h-42.37zM560.10 187.54h28.25v5.21h-28.25zM513.02 192.72h18.83v5.21h-18.83zM536.56 192.72h9.42v5.21h-9.42zM550.68 192.72h4.71v5.21h-4.71zM560.10 192.72h28.25v5.21h-28.25zM616.59 192.72h4.71v5.21h-4.71zM513.02 197.91h18.83v5.21h-18.83zM555.39 197.91h4.71v5.21h-4.71zM531.85 208.28h56.49v5.21h-56.49zM531.85 213.47h23.54v5.21h-23.54zM597.75 213.47h28.25v5.21h-28.25zM550.68 218.65h4.71v5.21h-4.71zM560.10 218.65h28.25v5.21h-28.25zM555.39 223.84h70.61v5.21h-70.61zM513.02 229.02h112.98v5.21h-112.98zM513.02 234.21h42.37v5.21h-42.37zM560.10 234.21h65.91v5.21h-65.91zM513.02 348.29h4.71v5.21h-4.71zM531.85 348.29h9.42v5.21h-9.42zM545.97 348.29h9.42v5.21h-9.42zM560.10 348.29h4.71v5.21h-4.71zM569.51 348.29h9.42v5.21h-9.42zM583.63 348.29h4.71v5.21h-4.71zM513.02 353.48h4.71v5.21h-4.71zM541.26 353.48h4.71v5.21h-4.71zM588.34 353.48h4.71v5.21h-4.71zM597.75 353.48h4.71v5.21h-4.71zM611.88 353.48h4.71v5.21h-4.71zM621.29 353.48h4.71v5.21h-4.71zM588.34 369.03h4.71v5.21h-4.71zM597.75 369.03h4.71v5.21h-4.71zM621.29 369.03h4.71v5.21h-4.71zM588.34 374.22h14.12v5.21h-14.12zM607.17 374.22h18.83v5.21h-18.83zM517.73 379.40h4.71v5.21h-4.71zM550.68 379.40h4.71v5.21h-4.71zM560.10 379.40h9.42v5.21h-9.42zM574.22 379.40h14.12v5.21h-14.12z"/>
<path fill="#c4c8f8" d="M451.82 21.60h4.71v5.21h-4.71zM461.24 21.60h4.71v5.21h-4.71zM470.65 21.60h23.54v5.21h-23.54zM498.90 21.60h4.71v5.21h-4.71zM517.73 21.60h9.42v5.21h-9.42zM531.85 21.60h18.83v5.21h-18.83zM555.39 21.60h4.71v5.21h-4.71zM564.80 21.60h9.42v5.21h-9.42zM583.63 21.60h14.12v5.21h-14.12zM602.46 21.60h9.42v5.21h-9.42zM616.59 21.60h4.71v5.21h-4.71zM470.65 26.79h14.12v5.21h-14.12zM489.48 26.79h14.12v5.21h-14.12zM550.68 26.79h4.71v5.21h-4.71zM560.10 26.79h4.71v5.21h-4.71zM574.22 26.79h4.71v5.21h-4.71zM611.88 26.79h4.71v5.21h-4.71zM621.29 26.79h4.71v5.21h-4.71zM437.70 31.97h4.71v5.21h-4.71zM475.36 31.97h4.71v5.21h-4.71zM489.48 31.97h4.71v5.21h-4.71zM498.90 31.97h4.71v5.21h-4.71zM513.02 31.97h4.71v5.21h-4.71zM531.85 31.97h9.42v5.21h-9.42zM550.68 31.97h4.71v5.21h-4.71zM560.10 31.97h14.12v5.21h-14.12zM578.92 31.97h4.71v5.21h-4.71zM588.34 31.97h4.71v5.21h-4.71zM597.75 31.97h23.54v5.21h-23.54zM437.70 37.16h4.71v5.21h-4.71zM470.65 37.16h4.71v5.21h-4.71zM480.07 37.16h28.25v5.21h-28.25zM517.73 37.16h9.42v5.21h-9.42zM531.85 37.16h4.71v5.21h-4.71zM550.68 37.16h9.42v5.21h-9.42zM569.51 37.16h14.12v5.21h-14.12zM588.34 37.16h4.71v5.21h-4.71zM597.75 37.16h28.25v5.21h-28.25zM475.36 42.34h4.71v5.21h-4.71zM489.48 42.34h4.71v5.21h-4.71zM498.90 42.34h9.42v5.21h-9.42zM517.73 42.34h9.42v5.21h-9.42zM536.56 42.34h4.71v5.21h-4.71zM545.97 42.34h4.71v5.21h-4.71zM560.10 42.34h4.71v5.21h-4.71zM451.82 47.53h4.71v5.21h-4.71zM470.65 47.53h32.95v5.21h-32.95zM517.73 47.53h14.12v5.21h-14.12zM550.68 47.53h4.71v5.21h-4.71zM574.22 47.53h14.12v5.21h-14.12zM593.05 47.53h4.71v5.21h-4.71zM621.29 47.53h4.71v5.21h-4.71zM461.24 52.71h4.71v5.21h-4.71zM470.65 52.71h18.83v5.21h-18.83zM498.90 52.71h4.71v5.21h-4.71zM545.97 52.71h4.71v5.21h-4.71zM560.10 52.71h4.71v5.21h-4.71zM569.51 52.71h4.71v5.21h-4.71zM597.75 52.71h14.12v5.21h-14.12zM437.70 57.90h4.71v5.21h-4.71zM470.65 57.90h14.12v5.21h-14.12zM489.48 57.90h4.71v5.21h-4.71zM522.43 57.90h4.71v5.21h-4.71zM550.68 57.90h9.42v5.21h-9.42zM569.51 57.90h14.12v5.21h-14.12zM621.29 57.90h4.71v5.21h-4.71zM465.94 63.08h14.12v5.21h-14.12zM494.19 63.08h9.42v5.21h-9.42zM527.14 63.08h4.71v5.21h-4.71zM541.26 63.08h14.12v5.21h-14.12zM560.10 63.08h14.12v5.21h-14.12zM588.34 63.08h4.71v5.21h-4.71zM597.75 63.08h9.42v5.21h-9.42zM616.59 63.08h4.71v5.21h-4.71zM465.94 68.27h14.12v5.21h-14.12zM494.19 68.27h9.42v5.21h-9.42zM527.14 68.27h28.25v5.21h-28.25zM560.10 68.27h14.12v5.21h-14.12zM578.92 68.27h4.71v5.21h-4.71zM588.34 68.27h4.71v5.21h-4.71zM597.75 68.27h4.71v5.21h-4.71zM616.59 68.27h4.71v5.21h-4.71zM451.82 73.46h4.71v5.21h-4.71zM470.65 73.46h32.95v5.21h-32.95zM513.02 73.46h18.83v5.21h-18.83zM536.56 73.46h4.71v5.21h-4.71zM545.97 73.46h9.42v5.21h-9.42zM560.10 73.46h23.54v5.21h-23.54zM593.05 73.46h14.12v5.21h-14.12zM611.88 73.46h9.42v5.21h-9.42zM480.07 78.64h4.71v5.21h-4.71zM489.48 78.64h14.12v5.21h-14.12zM517.73 78.64h9.42v5.21h-9.42zM531.85 78.64h4.71v5.21h-4.71zM545.97 78.64h9.42v5.21h-9.42zM569.51 78.64h9.42v5.21h-9.42zM597.75 78.64h4.71v5.21h-4.71zM611.88 78.64h4.71v5.21h-4.71zM475.36 83.83h9.42v5.21h-9.42zM489.48 83.83h4.71v5.21h-4.71zM503.61 83.83h4.71v5.21h-4.71zM545.97 83.83h4.71v5.21h-4.71zM602.46 83.83h9.42v5.21h-9.42zM475.36 89.01h28.25v5.21h-28.25zM522.43 89.01h18.83v5.21h-18.83zM588.34 89.01h37.66v5.21h-37.66zM475.36 94.20h32.95v5.21h-32.95zM513.02 94.20h37.66v5.21h-37.66zM555.39 94.20h4.71v5.21h-4.71zM564.80 94.20h4.71v5.21h-4.71zM588.34 94.20h37.66v5.21h-37.66zM475.36 99.38h32.95v5.21h-32.95zM517.73 99.38h18.83v5.21h-18.83zM437.70 104.57h4.71v5.21h-4.71zM447.12 104.57h4.71v5.21h-4.71zM461.24 104.57h14.12v5.21h-14.12zM503.61 104.57h9.42v5.21h-9.42zM545.97 104.57h9.42v5.21h-9.42zM569.51 104.57h4.71v5.21h-4.71zM578.92 104.57h4.71v5.21h-4.71zM484.77 109.75h9.42v5.21h-9.42zM503.61 109.75h4.71v5.21h-4.71zM522.43 109.75h9.42v5.21h-9.42zM536.56 109.75h9.42v5.21h-9.42zM555.39 109.75h4.71v5.21h-4.71zM451.82 114.94h4.71v5.21h-4.71zM461.24 114.94h4.71v5.21h-4.71zM470.65 114.94h4.71v5.21h-4.71zM484.77 114.94h9.42v5.21h-9.42zM513.02 114.94h4.71v5.21h-4.71zM545.97 114.94h4.71v5.21h-4.71zM569.51 114.94h4.71v5.21h-4.71zM583.63 114.94h9.42v5.21h-9.42zM465.94 120.13h4.71v5.21h-4.71zM484.77 120.13h4.71v5.21h-4.71zM498.90 120.13h4.71v5.21h-4.71zM545.97 120.13h4.71v5.21h-4.71zM555.39 120.13h4.71v5.21h-4.71zM564.80 120.13h9.42v5.21h-9.42zM593.05 120.13h4.71v5.21h-4.71zM442.41 125.31h4.71v5.21h-4.71zM451.82 125.31h4.71v5.21h-4.71zM489.48 125.31h4.71v5.21h-4.71zM513.02 125.31h4.71v5.21h-4.71zM522.43 125.31h28.25v5.21h-28.25zM583.63 125.31h4.71v5.21h-4.71zM593.05 125.31h4.71v5.21h-4.71zM616.59 125.31h4.71v5.21h-4.71zM484.77 130.50h9.42v5.21h-9.42zM498.90 130.50h4.71v5.21h-4.71zM578.92 130.50h9.42v5.21h-9.42zM456.53 135.68h4.71v5.21h-4.71zM465.94 135.68h9.42v5.21h-9.42zM480.07 135.68h4.71v5.21h-4.71zM498.90 135.68h4.71v5.21h-4.71zM508.31 135.68h4.71v5.21h-4.71zM578.92 135.68h4.71v5.21h-4.71zM447.12 140.87h4.71v5.21h-4.71zM465.94 140.87h4.71v5.21h-4.71zM508.31 140.87h4.71v5.21h-4.71zM451.82 146.05h4.71v5.21h-4.71zM470.65 146.05h9.42v5.21h-9.42zM484.77 146.05h14.12v5.21h-14.12zM484.77 151.24h14.12v5.21h-14.12zM484.77 156.42h18.83v5.21h-18.83zM484.77 161.61h9.42v5.21h-9.42zM498.90 161.61h4.71v5.21h-4.71zM517.73 161.61h4.71v5.21h-4.71zM536.56 161.61h4.71v5.21h-4.71zM555.39 161.61h18.83v5.21h-18.83zM597.75 161.61h4.71v5.21h-4.71zM437.70 166.80h4.71v5.21h-4.71zM470.65 166.80h18.83v5.21h-18.83zM588.34 166.80h4.71v5.21h-4.71zM597.75 166.80h4.71v5.21h-4.71zM451.82 171.98h4.71v5.21h-4.71zM484.77 171.98h18.83v5.21h-18.83zM513.02 171.98h28.25v5.21h-28.25zM545.97 171.98h4.71v5.21h-4.71zM564.80 171.98h9.42v5.21h-9.42zM583.63 171.98h4.71v5.21h-4.71zM593.05 171.98h4.71v5.21h-4.71zM602.46 171.98h18.83v5.21h-18.83zM480.07 177.17h28.25v5.21h-28.25zM513.02 177.17h37.66v5.21h-37.66zM560.10 177.17h9.42v5.21h-9.42zM574.22 177.17h42.37v5.21h-42.37zM621.29 177.17h4.71v5.21h-4.71zM451.82 182.35h4.71v5.21h-4.71zM475.36 182.35h4.71v5.21h-4.71zM484.77 182.35h14.12v5.21h-14.12zM437.70 187.54h4.71v5.21h-4.71zM451.82 187.54h14.12v5.21h-14.12zM470.65 187.54h14.12v5.21h-14.12zM588.34 187.54h37.66v5.21h-37.66zM451.82 192.72h4.71v5.21h-4.71zM484.77 192.72h18.83v5.21h-18.83zM531.85 192.72h4.71v5.21h-4.71zM545.97 192.72h4.71v5.21h-4.71zM588.34 192.72h28.25v5.21h-28.25zM621.29 192.72h4.71v5.21h-4.71zM480.07 197.91h28.25v5.21h-28.25zM531.85 197.91h23.54v5.21h-23.54zM560.10 197.91h37.66v5.21h-37.66zM602.46 197.91h18.83v5.21h-18.83zM456.53 203.09h4.71v5.21h-4.71zM475.36 203.09h32.95v5.21h-32.95zM517.73 203.09h14.12v5.21h-14.12zM555.39 203.09h4.71v5.21h-4.71zM593.05 203.09h4.71v5.21h-4.71zM602.46 203.09h4.71v5.21h-4.71zM616.59 203.09h4.71v5.21h-4.71zM475.36 208.28h32.95v5.21h-32.95zM588.34 208.28h37.66v5.21h-37.66zM451.82 213.47h4.71v5.21h-4.71zM480.07 213.47h23.54v5.21h-23.54zM588.34 213.47h9.42v5.21h-9.42zM451.82 218.65h14.12v5.21h-14.12zM470.65 218.65h9.42v5.21h-9.42zM484.77 218.65h9.42v5.21h-9.42zM517.73 218.65h28.25v5.21h-28.25zM437.70 223.84h4.71v5.21h-4.71zM451.82 223.84h14.12v5.21h-14.12zM513.02 223.84h42.37v5.21h-42.37zM437.70 229.02h14.12v5.21h-14.12zM456.53 229.02h4.71v5.21h-4.71zM465.94 229.02h9.42v5.21h-9.42zM451.82 234.21h4.71v5.21h-4.71zM470.65 234.21h4.71v5.21h-4.71zM480.07 234.21h23.54v5.21h-23.54zM456.53 239.39h9.42v5.21h-9.42zM503.61 239.39h4.71v5.21h-4.71zM456.53 244.58h4.71v5.21h-4.71zM465.94 244.58h9.42v5.21h-9.42zM503.61 244.58h4.71v5.21h-4.71zM437.70 249.76h18.83v5.21h-18.83zM461.24 249.76h14.12v5.21h-14.12zM593.05 249.76h4.71v5.21h-4.71zM437.70 254.95h28.25v5.21h-28.25zM522.43 254.95h18.83v5.21h-18.83zM545.97 254.95h4.71v5.21h-4.71zM555.39 254.95h4.71v5.21h-4.71zM564.80 254.95h4.71v5.21h-4.71zM583.63 254.95h4.71v5.21h-4.71zM470.65 260.14h4.71v5.21h-4.71zM480.07 260.14h28.25v5.21h-28.25zM536.56 260.14h9.42v5.21h-9.42zM555.39 260.14h4.71v5.21h-4.71zM569.51 260.14h9.42v5.21h-9.42zM583.63 260.14h9.42v5.21h-9.42zM621.29 260.14h4.71v5.21h-4.71zM442.41 265.32h4.71v5.21h-4.71zM456.53 265.32h18.83v5.21h-18.83zM498.90 265.32h9.42v5.21h-9.42zM541.26 265.32h14.12v5.21h-14.12zM564.80 265.32h4.71v5.21h-4.71zM437.70 270.51h18.83v5.21h-18.83zM461.24 270.51h14.12v5.21h-14.12zM513.02 270.51h9.42v5.21h-9.42zM531.85 270.51h9.42v5.21h-9.42zM545.97 270.51h9.42v5.21h-9.42zM560.10 270.51h28.25v5.21h-28.25zM447.12 275.69h4.71v5.21h-4.71zM465.94 275.69h4.71v5.21h-4.71zM498.90 275.69h4.71v5.21h-4.71zM545.97 275.69h4.71v5.21h-4.71zM560.10 275.69h9.42v5.21h-9.42zM574.22 275.69h4.71v5.21h-4.71zM583.63 275.69h4.71v5.21h-4.71zM437.70 280.88h4.71v5.21h-4.71zM451.82 280.88h18.83v5.21h-18.83zM588.34 280.88h37.66v5.21h-37.66zM447.12 286.06h9.42v5.21h-9.42zM480.07 286.06h4.71v5.21h-4.71zM588.34 286.06h4.71v5.21h-4.71zM597.75 286.06h4.71v5.21h-4.71zM607.17 286.06h4.71v5.21h-4.71zM621.29 286.06h4.71v5.21h-4.71zM484.77 291.25h9.42v5.21h-9.42zM503.61 291.25h4.71v5.21h-4.71zM442.41 296.44h4.71v5.21h-4.71zM451.82 296.44h4.71v5.21h-4.71zM489.48 296.44h4.71v5.21h-4.71zM498.90 296.44h4.71v5.21h-4.71zM527.14 296.44h18.83v5.21h-18.83zM437.70 301.62h4.71v5.21h-4.71zM461.24 301.62h4.71v5.21h-4.71zM508.31 301.62h4.71v5.21h-4.71zM555.39 301.62h18.83v5.21h-18.83zM447.12 306.81h4.71v5.21h-4.71zM475.36 306.81h18.83v5.21h-18.83zM498.90 306.81h4.71v5.21h-4.71zM447.12 311.99h4.71v5.21h-4.71zM484.77 311.99h14.12v5.21h-14.12zM508.31 311.99h4.71v5.21h-4.71zM555.39 311.99h4.71v5.21h-4.71zM442.41 317.18h9.42v5.21h-9.42zM456.53 317.18h4.71v5.21h-4.71zM489.48 317.18h4.71v5.21h-4.71zM475.36 322.36h4.71v5.21h-4.71zM484.77 322.36h28.25v5.21h-28.25zM536.56 322.36h4.71v5.21h-4.71zM555.39 322.36h4.71v5.21h-4.71zM616.59 322.36h4.71v5.21h-4.71zM470.65 327.55h9.42v5.21h-9.42zM489.48 327.55h9.42v5.21h-9.42zM503.61 327.55h4.71v5.21h-4.71zM555.39 327.55h4.71v5.21h-4.71zM475.36 332.73h4.71v5.21h-4.71zM494.19 332.73h14.12v5.21h-14.12zM437.70 337.92h9.42v5.21h-9.42zM465.94 337.92h4.71v5.21h-4.71zM508.31 337.92h4.71v5.21h-4.71zM447.12 343.11h4.71v5.21h-4.71zM475.36 343.11h4.71v5.21h-4.71zM489.48 343.11h4.71v5.21h-4.71zM498.90 343.11h14.12v5.21h-14.12zM517.73 343.11h9.42v5.21h-9.42zM531.85 343.11h9.42v5.21h-9.42zM597.75 343.11h14.12v5.21h-14.12zM484.77 348.29h9.42v5.21h-9.42zM541.26 348.29h4.71v5.21h-4.71zM578.92 348.29h4.71v5.21h-4.71zM456.53 353.48h9.42v5.21h-9.42zM475.36 353.48h4.71v5.21h-4.71zM484.77 353.48h9.42v5.21h-9.42zM475.36 358.66h9.42v5.21h-9.42zM489.48 358.66h4.71v5.21h-4.71zM503.61 358.66h4.71v5.21h-4.71zM555.39 358.66h4.71v5.21h-4.71zM564.80 358.66h4.71v5.21h-4.71zM583.63 358.66h14.12v5.21h-14.12zM602.46 358.66h18.83v5.21h-18.83zM437.70 363.85h4.71v5.21h-4.71zM447.12 363.85h4.71v5.21h-4.71zM475.36 363.85h14.12v5.21h-14.12zM508.31 363.85h4.71v5.21h-4.71zM517.73 363.85h4.71v5.21h-4.71zM550.68 363.85h9.42v5.21h-9.42zM564.80 363.85h4.71v5.21h-4.71zM583.63 363.85h4.71v5.21h-4.71zM437.70 369.03h4.71v5.21h-4.71zM451.82 369.03h14.12v5.21h-14.12zM484.77 369.03h4.71v5.21h-4.71zM447.12 374.22h4.71v5.21h-4.71zM475.36 374.22h4.71v5.21h-4.71zM489.48 374.22h4.71v5.21h-4.71zM498.90 374.22h14.12v5.21h-14.12zM602.46 374.22h4.71v5.21h-4.71zM437.70 379.40h4.71v5.21h-4.71zM480.07 379.40h4.71v5.21h-4.71zM513.02 379.40h4.71v5.21h-4.71zM527.14 379.40h14.12v5.21h-14.12zM569.51 379.40h4.71v5.21h-4.71zM456.53 384.59h4.71v5.21h-4.71zM465.94 384.59h9.42v5.21h-9.42zM498.90 384.59h9.42v5.21h-9.42zM578.92 384.59h9.42v5.21h-9.42zM437.70 389.78h9.42v5.21h-9.42zM451.82 389.78h4.71v5.21h-4.71zM461.24 389.78h4.71v5.21h-4.71zM465.94 394.96h4.71v5.21h-4.71zM498.90 394.96h4.71v5.21h-4.71zM541.26 394.96h9.42v5.21h-9.42zM569.51 394.96h9.42v5.21h-9.42zM442.41 400.15h9.42v5.21h-9.42zM456.53 400.15h4.71v5.21h-4.71zM465.94 400.15h4.71v5.21h-4.71zM578.92 400.15h9.42v5.21h-9.42zM442.41 405.33h4.71v5.21h-4.71zM456.53 405.33h4.71v5.21h-4.71zM465.94 405.33h4.71v5.21h-4.71zM508.31 405.33h4.71v5.21h-4.71zM442.41 410.52h4.71v5.21h-4.71zM451.82 410.52h9.42v5.21h-9.42zM465.94 410.52h4.71v5.21h-4.71zM508.31 410.52h4.71v5.21h-4.71zM593.05 410.52h4.71v5.21h-4.71zM621.29 410.52h4.71v5.21h-4.71zM456.53 415.70h4.71v5.21h-4.71zM465.94 415.70h4.71v5.21h-4.71zM484.77 415.70h4.71v5.21h-4.71zM498.90 415.70h4.71v5.21h-4.71zM437.70 420.89h9.42v5.21h-9.42zM456.53 420.89h4.71v5.21h-4.71zM480.07 420.89h9.42v5.21h-9.42zM508.31 420.89h4.71v5.21h-4.71zM456.53 426.07h4.71v5.21h-4.71zM465.94 426.07h14.12v5.21h-14.12zM503.61 426.07h4.71v5.21h-4.71zM442.41 431.26h9.42v5.21h-9.42zM456.53 431.26h4.71v5.21h-4.71zM503.61 431.26h4.71v5.21h-4.71zM442.41 436.45h9.42v5.21h-9.42zM465.94 436.45h4.71v5.21h-4.71zM498.90 436.45h9.42v5.21h-9.42zM442.41 441.63h4.71v5.21h-4.71zM456.53 441.63h4.71v5.21h-4.71zM484.77 441.63h4.71v5.21h-4.71zM437.70 446.82h4.71v5.21h-4.71zM451.82 446.82h9.42v5.21h-9.42zM484.77 446.82h4.71v5.21h-4.71zM513.02 446.82h28.25v5.21h-28.25zM555.39 446.82h4.71v5.21h-4.71zM578.92 446.82h23.54v5.21h-23.54zM607.17 446.82h18.83v5.21h-18.83zM456.53 452.00h4.71v5.21h-4.71zM470.65 452.00h9.42v5.21h-9.42zM442.41 457.19h4.71v5.21h-4.71zM456.53 457.19h9.42v5.21h-9.42zM503.61 457.19h4.71v5.21h-4.71zM442.41 462.37h9.42v5.21h-9.42zM456.53 462.37h4.71v5.21h-4.71zM588.34 462.37h4.71v5.21h-4.71zM597.75 462.37h23.54v5.21h-23.54zM465.94 467.56h4.71v5.21h-4.71zM498.90 467.56h9.42v5.21h-9.42zM442.41 472.74h4.71v5.21h-4.71zM456.53 472.74h4.71v5.21h-4.71zM465.94 472.74h4.71v5.21h-4.71zM437.70 477.93h4.71v5.21h-4.71zM451.82 477.93h9.42v5.21h-9.42zM480.07 477.93h9.42v5.21h-9.42zM508.31 477.93h23.54v5.21h-23.54zM550.68 477.93h9.42v5.21h-9.42zM564.80 477.93h14.12v5.21h-14.12zM583.63 477.93h4.71v5.21h-4.71zM447.12 483.12h4.71v5.21h-4.71zM465.94 483.12h4.71v5.21h-4.71zM498.90 483.12h4.71v5.21h-4.71zM555.39 483.12h18.83v5.21h-18.83zM437.70 488.30h4.71v5.21h-4.71zM465.94 488.30h4.71v5.21h-4.71zM517.73 488.30h14.12v5.21h-14.12zM588.34 488.30h9.42v5.21h-9.42zM602.46 488.30h4.71v5.21h-4.71zM611.88 488.30h4.71v5.21h-4.71zM621.29 488.30h4.71v5.21h-4.71zM456.53 493.49h4.71v5.21h-4.71zM465.94 493.49h4.71v5.21h-4.71zM484.77 493.49h14.12v5.21h-14.12zM503.61 493.49h4.71v5.21h-4.71zM465.94 498.67h9.42v5.21h-9.42zM484.77 498.67h18.83v5.21h-18.83zM480.07 503.86h4.71v5.21h-4.71zM494.19 503.86h18.83v5.21h-18.83zM531.85 503.86h18.83v5.21h-18.83zM593.05 503.86h4.71v5.21h-4.71zM602.46 503.86h23.54v5.21h-23.54zM498.90 509.04h14.12v5.21h-14.12zM442.41 514.23h4.71v5.21h-4.71zM465.94 514.23h9.42v5.21h-9.42zM541.26 514.23h4.71v5.21h-4.71zM569.51 514.23h9.42v5.21h-9.42zM465.94 519.41h9.42v5.21h-9.42zM484.77 519.41h18.83v5.21h-18.83z"/>
<path fill="#f6f4fa" d="M437.70 21.60h4.71v5.21h-4.71zM494.19 21.60h4.71v5.21h-4.71zM503.61 21.60h4.71v5.21h-4.71zM550.68 21.60h4.71v5.21h-4.71zM560.10 21.60h4.71v5.21h-4.71zM574.22 21.60h9.42v5.21h-9.42zM597.75 21.60h4.71v5.21h-4.71zM621.29 21.60h4.71v5.21h-4.71zM437.70 26.79h4.71v5.21h-4.71zM451.82 26.79h4.71v5.21h-4.71zM461.24 26.79h4.71v5.21h-4.71zM503.61 26.79h9.42v5.21h-9.42zM461.24 31.97h4.71v5.21h-4.71zM480.07 31.97h4.71v5.21h-4.71zM503.61 31.97h4.71v5.21h-4.71zM517.73 31.97h9.42v5.21h-9.42zM555.39 31.97h4.71v5.21h-4.71zM621.29 31.97h4.71v5.21h-4.71zM451.82 37.16h4.71v5.21h-4.71zM461.24 37.16h4.71v5.21h-4.71zM583.63 37.16h4.71v5.21h-4.71zM593.05 37.16h4.71v5.21h-4.71zM461.24 42.34h4.71v5.21h-4.71zM480.07 42.34h4.71v5.21h-4.71zM527.14 42.34h4.71v5.21h-4.71zM550.68 42.34h4.71v5.21h-4.71zM564.80 42.34h9.42v5.21h-9.42zM597.75 42.34h18.83v5.21h-18.83zM437.70 47.53h4.71v5.21h-4.71zM461.24 47.53h9.42v5.21h-9.42zM503.61 47.53h4.71v5.21h-4.71zM442.41 52.71h4.71v5.21h-4.71zM451.82 52.71h4.71v5.21h-4.71zM489.48 52.71h4.71v5.21h-4.71zM503.61 52.71h4.71v5.21h-4.71zM527.14 52.71h4.71v5.21h-4.71zM550.68 52.71h4.71v5.21h-4.71zM574.22 52.71h9.42v5.21h-9.42zM588.34 52.71h4.71v5.21h-4.71zM611.88 52.71h14.12v5.21h-14.12zM451.82 57.90h4.71v5.21h-4.71zM484.77 57.90h4.71v5.21h-4.71zM503.61 57.90h4.71v5.21h-4.71zM517.73 57.90h4.71v5.21h-4.71zM593.05 57.90h4.71v5.21h-4.71zM437.70 63.08h9.42v5.21h-9.42zM451.82 63.08h14.12v5.21h-14.12zM480.07 63.08h4.71v5.21h-4.71zM489.48 63.08h4.71v5.21h-4.71zM503.61 63.08h4.71v5.21h-4.71zM513.02 63.08h4.71v5.21h-4.71zM531.85 63.08h9.42v5.21h-9.42zM578.92 63.08h4.71v5.21h-4.71zM607.17 63.08h9.42v5.21h-9.42zM621.29 63.08h4.71v5.21h-4.71zM437.70 68.27h9.42v5.21h-9.42zM451.82 68.27h14.12v5.21h-14.12zM480.07 68.27h4.71v5.21h-4.71zM489.48 68.27h4.71v5.21h-4.71zM503.61 68.27h4.71v5.21h-4.71zM513.02 68.27h4.71v5.21h-4.71zM602.46 68.27h14.12v5.21h-14.12zM621.29 68.27h4.71v5.21h-4.71zM503.61 73.46h4.71v5.21h-4.71zM555.39 73.46h4.71v5.21h-4.71zM583.63 73.46h9.42v5.21h-9.42zM621.29 73.46h4.71v5.21h-4.71zM437.70 78.64h4.71v5.21h-4.71zM465.94 78.64h9.42v5.21h-9.42zM484.77 78.64h4.71v5.21h-4.71zM503.61 78.64h4.71v5.21h-4.71zM583.63 78.64h4.71v5.21h-4.71zM602.46 78.64h9.42v5.21h-9.42zM465.94 83.83h9.42v5.21h-9.42zM484.77 83.83h4.71v5.21h-4.71zM513.02 83.83h4.71v5.21h-4.71zM527.14 83.83h18.83v5.21h-18.83zM560.10 83.83h4.71v5.21h-4.71zM588.34 83.83h4.71v5.21h-4.71zM597.75 83.83h4.71v5.21h-4.71zM611.88 83.83h9.42v5.21h-9.42zM451.82 89.01h4.71v5.21h-4.71zM470.65 89.01h4.71v5.21h-4.71zM503.61 89.01h18.83v5.21h-18.83zM541.26 89.01h9.42v5.21h-9.42zM555.39 89.01h4.71v5.21h-4.71zM564.80 89.01h4.71v5.21h-4.71zM470.65 94.20h4.71v5.21h-4.71zM508.31 94.20h4.71v5.21h-4.71zM560.10 94.20h4.71v5.21h-4.71zM569.51 94.20h18.83v5.21h-18.83zM508.31 99.38h9.42v5.21h-9.42zM536.56 99.38h14.12v5.21h-14.12zM555.39 99.38h4.71v5.21h-4.71zM602.46 99.38h9.42v5.21h-9.42zM616.59 99.38h4.71v5.21h-4.71zM456.53 104.57h4.71v5.21h-4.71zM498.90 104.57h4.71v5.21h-4.71zM541.26 104.57h4.71v5.21h-4.71zM574.22 104.57h4.71v5.21h-4.71zM593.05 104.57h4.71v5.21h-4.71zM442.41 109.75h4.71v5.21h-4.71zM451.82 109.75h4.71v5.21h-4.71zM461.24 109.75h4.71v5.21h-4.71zM475.36 109.75h4.71v5.21h-4.71zM494.19 109.75h9.42v5.21h-9.42zM531.85 109.75h4.71v5.21h-4.71zM560.10 109.75h14.12v5.21h-14.12zM588.34 109.75h37.66v5.21h-37.66zM437.70 114.94h9.42v5.21h-9.42zM456.53 114.94h4.71v5.21h-4.71zM475.36 114.94h4.71v5.21h-4.71zM494.19 114.94h9.42v5.21h-9.42zM560.10 114.94h4.71v5.21h-4.71zM574.22 114.94h4.71v5.21h-4.71zM597.75 114.94h4.71v5.21h-4.71zM621.29 114.94h4.71v5.21h-4.71zM447.12 120.13h4.71v5.21h-4.71zM461.24 120.13h4.71v5.21h-4.71zM480.07 120.13h4.71v5.21h-4.71zM489.48 120.13h4.71v5.21h-4.71zM517.73 120.13h14.12v5.21h-14.12zM550.68 120.13h4.71v5.21h-4.71zM560.10 120.13h4.71v5.21h-4.71zM437.70 125.31h4.71v5.21h-4.71zM447.12 125.31h4.71v5.21h-4.71zM470.65 125.31h4.71v5.21h-4.71zM494.19 125.31h9.42v5.21h-9.42zM564.80 125.31h4.71v5.21h-4.71zM588.34 125.31h4.71v5.21h-4.71zM611.88 125.31h4.71v5.21h-4.71zM621.29 125.31h4.71v5.21h-4.71zM456.53 130.50h4.71v5.21h-4.71zM465.94 130.50h4.71v5.21h-4.71zM494.19 130.50h4.71v5.21h-4.71zM531.85 130.50h9.42v5.21h-9.42zM569.51 130.50h9.42v5.21h-9.42zM588.34 130.50h9.42v5.21h-9.42zM621.29 130.50h4.71v5.21h-4.71zM447.12 135.68h9.42v5.21h-9.42zM484.77 135.68h4.71v5.21h-4.71zM494.19 135.68h4.71v5.21h-4.71zM583.63 135.68h4.71v5.21h-4.71zM593.05 135.68h4.71v5.21h-4.71zM621.29 135.68h4.71v5.21h-4.71zM437.70 140.87h9.42v5.21h-9.42zM451.82 140.87h14.12v5.21h-14.12zM480.07 140.87h9.42v5.21h-9.42zM494.19 140.87h9.42v5.21h-9.42zM437.70 146.05h4.71v5.21h-4.71zM456.53 146.05h4.71v5.21h-4.71zM451.82 151.24h4.71v5.21h-4.71zM470.65 151.24h4.71v5.21h-4.71zM498.90 151.24h9.42v5.21h-9.42zM451.82 156.42h4.71v5.21h-4.71zM470.65 156.42h4.71v5.21h-4.71zM503.61 156.42h9.42v5.21h-9.42zM451.82 161.61h4.71v5.21h-4.71zM508.31 161.61h9.42v5.21h-9.42zM522.43 161.61h14.12v5.21h-14.12zM578.92 161.61h4.71v5.21h-4.71zM442.41 166.80h9.42v5.21h-9.42zM456.53 166.80h9.42v5.21h-9.42zM489.48 166.80h9.42v5.21h-9.42zM470.65 171.98h4.71v5.21h-4.71zM503.61 171.98h4.71v5.21h-4.71zM541.26 171.98h4.71v5.21h-4.71zM560.10 171.98h4.71v5.21h-4.71zM574.22 171.98h4.71v5.21h-4.71zM588.34 171.98h4.71v5.21h-4.71zM597.75 171.98h4.71v5.21h-4.71zM621.29 171.98h4.71v5.21h-4.71zM451.82 177.17h4.71v5.21h-4.71zM470.65 177.17h4.71v5.21h-4.71zM569.51 177.17h4.71v5.21h-4.71zM498.90 182.35h4.71v5.21h-4.71zM442.41 187.54h9.42v5.21h-9.42zM465.94 187.54h4.71v5.21h-4.71zM484.77 187.54h14.12v5.21h-14.12zM461.24 192.72h4.71v5.21h-4.71zM470.65 192.72h4.71v5.21h-4.71zM503.61 192.72h4.71v5.21h-4.71zM451.82 197.91h4.71v5.21h-4.71zM461.24 197.91h4.71v5.21h-4.71zM470.65 197.91h4.71v5.21h-4.71zM508.31 197.91h4.71v5.21h-4.71zM597.75 197.91h4.71v5.21h-4.71zM621.29 197.91h4.71v5.21h-4.71zM470.65 203.09h4.71v5.21h-4.71zM513.02 203.09h4.71v5.21h-4.71zM531.85 203.09h18.83v5.21h-18.83zM588.34 203.09h4.71v5.21h-4.71zM597.75 203.09h4.71v5.21h-4.71zM607.17 203.09h9.42v5.21h-9.42zM451.82 208.28h4.71v5.21h-4.71zM470.65 208.28h4.71v5.21h-4.71zM470.65 213.47h4.71v5.21h-4.71zM503.61 213.47h4.71v5.21h-4.71zM437.70 218.65h9.42v5.21h-9.42zM480.07 218.65h4.71v5.21h-4.71zM513.02 218.65h4.71v5.21h-4.71zM545.97 218.65h4.71v5.21h-4.71zM442.41 223.84h9.42v5.21h-9.42zM475.36 223.84h18.83v5.21h-18.83zM437.70 234.21h4.71v5.21h-4.71zM461.24 234.21h4.71v5.21h-4.71zM503.61 234.21h4.71v5.21h-4.71zM447.12 239.39h4.71v5.21h-4.71zM465.94 239.39h4.71v5.21h-4.71zM484.77 239.39h4.71v5.21h-4.71zM498.90 239.39h4.71v5.21h-4.71zM447.12 244.58h4.71v5.21h-4.71zM461.24 244.58h4.71v5.21h-4.71zM484.77 244.58h9.42v5.21h-9.42zM593.05 244.58h4.71v5.21h-4.71zM508.31 249.76h4.71v5.21h-4.71zM555.39 249.76h4.71v5.21h-4.71zM588.34 249.76h4.71v5.21h-4.71zM597.75 249.76h28.25v5.21h-28.25zM465.94 254.95h4.71v5.21h-4.71zM475.36 254.95h4.71v5.21h-4.71zM513.02 254.95h9.42v5.21h-9.42zM541.26 254.95h4.71v5.21h-4.71zM569.51 254.95h4.71v5.21h-4.71zM451.82 260.14h4.71v5.21h-4.71zM461.24 260.14h4.71v5.21h-4.71zM475.36 260.14h4.71v5.21h-4.71zM508.31 260.14h9.42v5.21h-9.42zM522.43 260.14h4.71v5.21h-4.71zM531.85 260.14h4.71v5.21h-4.71zM564.80 260.14h4.71v5.21h-4.71zM578.92 260.14h4.71v5.21h-4.71zM593.05 260.14h4.71v5.21h-4.71zM616.59 260.14h4.71v5.21h-4.71zM451.82 265.32h4.71v5.21h-4.71zM484.77 265.32h14.12v5.21h-14.12zM513.02 265.32h4.71v5.21h-4.71zM522.43 265.32h9.42v5.21h-9.42zM555.39 265.32h9.42v5.21h-9.42zM569.51 265.32h14.12v5.21h-14.12zM442.41 275.69h4.71v5.21h-4.71zM456.53 275.69h9.42v5.21h-9.42zM470.65 275.69h4.71v5.21h-4.71zM484.77 275.69h4.71v5.21h-4.71zM541.26 275.69h4.71v5.21h-4.71zM555.39 275.69h4.71v5.21h-4.71zM569.51 275.69h4.71v5.21h-4.71zM508.31 280.88h4.71v5.21h-4.71zM437.70 286.06h4.71v5.21h-4.71zM456.53 286.06h4.71v5.21h-4.71zM494.19 286.06h4.71v5.21h-4.71zM536.56 286.06h4.71v5.21h-4.71zM611.88 286.06h4.71v5.21h-4.71zM475.36 291.25h9.42v5.21h-9.42zM494.19 291.25h4.71v5.21h-4.71zM588.34 291.25h4.71v5.21h-4.71zM602.46 291.25h18.83v5.21h-18.83zM447.12 296.44h4.71v5.21h-4.71zM475.36 296.44h4.71v5.21h-4.71zM494.19 296.44h4.71v5.21h-4.71zM545.97 296.44h4.71v5.21h-4.71zM451.82 301.62h4.71v5.21h-4.71zM470.65 301.62h4.71v5.21h-4.71zM503.61 301.62h4.71v5.21h-4.71zM513.02 301.62h18.83v5.21h-18.83zM545.97 301.62h4.71v5.21h-4.71zM442.41 306.81h4.71v5.21h-4.71zM465.94 306.81h4.71v5.21h-4.71zM494.19 306.81h4.71v5.21h-4.71zM503.61 306.81h4.71v5.21h-4.71zM442.41 311.99h4.71v5.21h-4.71zM456.53 311.99h4.71v5.21h-4.71zM503.61 311.99h4.71v5.21h-4.71zM583.63 311.99h4.71v5.21h-4.71zM593.05 311.99h18.83v5.21h-18.83zM616.59 311.99h4.71v5.21h-4.71zM437.70 317.18h4.71v5.21h-4.71zM451.82 317.18h4.71v5.21h-4.71zM461.24 317.18h4.71v5.21h-4.71zM494.19 317.18h4.71v5.21h-4.71zM555.39 317.18h4.71v5.21h-4.71zM461.24 322.36h4.71v5.21h-4.71zM480.07 322.36h4.71v5.21h-4.71zM513.02 322.36h23.54v5.21h-23.54zM541.26 322.36h9.42v5.21h-9.42zM564.80 322.36h4.71v5.21h-4.71zM578.92 322.36h37.66v5.21h-37.66zM621.29 322.36h4.71v5.21h-4.71zM484.77 327.55h4.71v5.21h-4.71zM498.90 327.55h4.71v5.21h-4.71zM470.65 332.73h4.71v5.21h-4.71zM484.77 332.73h4.71v5.21h-4.71zM508.31 332.73h4.71v5.21h-4.71zM616.59 332.73h4.71v5.21h-4.71zM451.82 337.92h4.71v5.21h-4.71zM461.24 337.92h4.71v5.21h-4.71zM480.07 337.92h4.71v5.21h-4.71zM503.61 337.92h4.71v5.21h-4.71zM494.19 343.11h4.71v5.21h-4.71zM541.26 343.11h9.42v5.21h-9.42zM588.34 343.11h9.42v5.21h-9.42zM611.88 343.11h9.42v5.21h-9.42zM437.70 348.29h9.42v5.21h-9.42zM451.82 348.29h4.71v5.21h-4.71zM494.19 348.29h4.71v5.21h-4.71zM437.70 353.48h4.71v5.21h-4.71zM451.82 353.48h4.71v5.21h-4.71zM480.07 353.48h4.71v5.21h-4.71zM494.19 353.48h4.71v5.21h-4.71zM503.61 353.48h9.42v5.21h-9.42zM451.82 358.66h4.71v5.21h-4.71zM461.24 358.66h4.71v5.21h-4.71zM470.65 358.66h4.71v5.21h-4.71zM494.19 358.66h9.42v5.21h-9.42zM560.10 358.66h4.71v5.21h-4.71zM569.51 358.66h4.71v5.21h-4.71zM597.75 358.66h4.71v5.21h-4.71zM621.29 358.66h4.71v5.21h-4.71zM456.53 363.85h4.71v5.21h-4.71zM489.48 363.85h4.71v5.21h-4.71zM503.61 363.85h4.71v5.21h-4.71zM513.02 363.85h4.71v5.21h-4.71zM522.43 363.85h4.71v5.21h-4.71zM574.22 363.85h4.71v5.21h-4.71zM465.94 369.03h4.71v5.21h-4.71zM475.36 369.03h9.42v5.21h-9.42zM508.31 369.03h4.71v5.21h-4.71zM442.41 374.22h4.71v5.21h-4.71zM494.19 374.22h4.71v5.21h-4.71zM451.82 379.40h4.71v5.21h-4.71zM484.77 379.40h4.71v5.21h-4.71zM508.31 379.40h4.71v5.21h-4.71zM522.43 379.40h4.71v5.21h-4.71zM541.26 379.40h9.42v5.21h-9.42zM442.41 384.59h14.12v5.21h-14.12zM461.24 384.59h4.71v5.21h-4.71zM484.77 384.59h4.71v5.21h-4.71zM541.26 384.59h9.42v5.21h-9.42zM574.22 384.59h4.71v5.21h-4.71zM588.34 384.59h9.42v5.21h-9.42zM621.29 384.59h4.71v5.21h-4.71zM456.53 389.78h4.71v5.21h-4.71zM470.65 389.78h4.71v5.21h-4.71zM489.48 389.78h42.37v5.21h-42.37zM597.75 389.78h28.25v5.21h-28.25zM447.12 394.96h4.71v5.21h-4.71zM456.53 394.96h9.42v5.21h-9.42zM470.65 394.96h4.71v5.21h-4.71zM484.77 394.96h14.12v5.21h-14.12zM550.68 394.96h4.71v5.21h-4.71zM564.80 394.96h4.71v5.21h-4.71zM593.05 394.96h4.71v5.21h-4.71zM437.70 400.15h4.71v5.21h-4.71zM451.82 400.15h4.71v5.21h-4.71zM461.24 400.15h4.71v5.21h-4.71zM470.65 400.15h4.71v5.21h-4.71zM498.90 400.15h9.42v5.21h-9.42zM550.68 400.15h4.71v5.21h-4.71zM574.22 400.15h4.71v5.21h-4.71zM437.70 405.33h4.71v5.21h-4.71zM451.82 405.33h4.71v5.21h-4.71zM461.24 405.33h4.71v5.21h-4.71zM498.90 405.33h9.42v5.21h-9.42zM437.70 410.52h4.71v5.21h-4.71zM484.77 410.52h4.71v5.21h-4.71zM498.90 410.52h9.42v5.21h-9.42zM588.34 410.52h4.71v5.21h-4.71zM597.75 410.52h4.71v5.21h-4.71zM607.17 410.52h9.42v5.21h-9.42zM442.41 415.70h9.42v5.21h-9.42zM480.07 415.70h4.71v5.21h-4.71zM489.48 415.70h9.42v5.21h-9.42zM451.82 420.89h4.71v5.21h-4.71zM465.94 420.89h4.71v5.21h-4.71zM475.36 420.89h4.71v5.21h-4.71zM489.48 420.89h4.71v5.21h-4.71zM498.90 420.89h4.71v5.21h-4.71zM442.41 426.07h4.71v5.21h-4.71zM461.24 426.07h4.71v5.21h-4.71zM489.48 426.07h14.12v5.21h-14.12zM451.82 431.26h4.71v5.21h-4.71zM461.24 431.26h4.71v5.21h-4.71zM498.90 431.26h4.71v5.21h-4.71zM456.53 436.45h4.71v5.21h-4.71zM480.07 436.45h4.71v5.21h-4.71zM489.48 436.45h9.42v5.21h-9.42zM550.68 436.45h4.71v5.21h-4.71zM578.92 436.45h9.42v5.21h-9.42zM437.70 441.63h4.71v5.21h-4.71zM451.82 441.63h4.71v5.21h-4.71zM461.24 441.63h4.71v5.21h-4.71zM470.65 441.63h4.71v5.21h-4.71zM480.07 441.63h4.71v5.21h-4.71zM517.73 441.63h4.71v5.21h-4.71zM602.46 441.63h4.71v5.21h-4.71zM616.59 441.63h4.71v5.21h-4.71zM461.24 446.82h9.42v5.21h-9.42zM475.36 446.82h9.42v5.21h-9.42zM508.31 446.82h4.71v5.21h-4.71zM541.26 446.82h14.12v5.21h-14.12zM564.80 446.82h4.71v5.21h-4.71zM574.22 446.82h4.71v5.21h-4.71zM437.70 452.00h14.12v5.21h-14.12zM461.24 452.00h4.71v5.21h-4.71zM480.07 452.00h9.42v5.21h-9.42zM494.19 452.00h18.83v5.21h-18.83zM437.70 457.19h4.71v5.21h-4.71zM451.82 457.19h4.71v5.21h-4.71zM498.90 457.19h4.71v5.21h-4.71zM437.70 462.37h4.71v5.21h-4.71zM451.82 462.37h4.71v5.21h-4.71zM461.24 462.37h4.71v5.21h-4.71zM498.90 462.37h9.42v5.21h-9.42zM517.73 462.37h9.42v5.21h-9.42zM442.41 467.56h9.42v5.21h-9.42zM456.53 467.56h4.71v5.21h-4.71zM470.65 467.56h4.71v5.21h-4.71zM437.70 472.74h4.71v5.21h-4.71zM451.82 472.74h4.71v5.21h-4.71zM480.07 472.74h9.42v5.21h-9.42zM498.90 472.74h9.42v5.21h-9.42zM465.94 477.93h4.71v5.21h-4.71zM503.61 477.93h4.71v5.21h-4.71zM531.85 477.93h4.71v5.21h-4.71zM541.26 477.93h4.71v5.21h-4.71zM560.10 477.93h4.71v5.21h-4.71zM578.92 477.93h4.71v5.21h-4.71zM442.41 483.12h4.71v5.21h-4.71zM456.53 483.12h4.71v5.21h-4.71zM480.07 483.12h18.83v5.21h-18.83zM541.26 483.12h9.42v5.21h-9.42zM451.82 488.30h4.71v5.21h-4.71zM498.90 488.30h9.42v5.21h-9.42zM513.02 488.30h4.71v5.21h-4.71zM531.85 488.30h14.12v5.21h-14.12zM597.75 488.30h4.71v5.21h-4.71zM607.17 488.30h4.71v5.21h-4.71zM616.59 488.30h4.71v5.21h-4.71zM498.90 493.49h4.71v5.21h-4.71zM593.05 493.49h4.71v5.21h-4.71zM456.53 498.67h9.42v5.21h-9.42zM480.07 498.67h4.71v5.21h-4.71zM593.05 498.67h4.71v5.21h-4.71zM621.29 498.67h4.71v5.21h-4.71zM470.65 503.86h4.71v5.21h-4.71zM588.34 503.86h4.71v5.21h-4.71zM597.75 503.86h4.71v5.21h-4.71zM588.34 509.04h37.66v5.21h-37.66zM437.70 514.23h4.71v5.21h-4.71zM447.12 514.23h18.83v5.21h-18.83zM484.77 514.23h4.71v5.21h-4.71zM494.19 514.23h14.12v5.21h-14.12zM597.75 514.23h4.71v5.21h-4.71zM480.07 519.41h4.71v5.21h-4.71zM578.92 519.41h4.71v5.21h-4.71zM593.05 519.41h4.71v5.21h-4.71z"/>
<path fill="#fbcece" d="M442.41 21.60h9.42v5.21h-9.42zM456.53 21.60h4.71v5.21h-4.71zM508.31 21.60h4.71v5.21h-4.71zM611.88 21.60h4.71v5.21h-4.71zM456.53 26.79h4.71v5.21h-4.71zM442.41 31.97h4.71v5.21h-4.71zM451.82 31.97h9.42v5.21h-9.42zM465.94 31.97h4.71v5.21h-4.71zM484.77 31.97h4.71v5.21h-4.71zM508.31 31.97h4.71v5.21h-4.71zM574.22 31.97h4.71v5.21h-4.71zM583.63 31.97h4.71v5.21h-4.71zM593.05 31.97h4.71v5.21h-4.71zM447.12 37.16h4.71v5.21h-4.71zM456.53 37.16h4.71v5.21h-4.71zM465.94 37.16h4.71v5.21h-4.71zM508.31 37.16h4.71v5.21h-4.71zM437.70 42.34h9.42v5.21h-9.42zM451.82 42.34h9.42v5.21h-9.42zM465.94 42.34h4.71v5.21h-4.71zM484.77 42.34h4.71v5.21h-4.71zM508.31 42.34h4.71v5.21h-4.71zM574.22 42.34h9.42v5.21h-9.42zM588.34 42.34h4.71v5.21h-4.71zM616.59 42.34h9.42v5.21h-9.42zM447.12 47.53h4.71v5.21h-4.71zM456.53 47.53h4.71v5.21h-4.71zM437.70 52.71h4.71v5.21h-4.71zM447.12 52.71h4.71v5.21h-4.71zM465.94 52.71h4.71v5.21h-4.71zM508.31 52.71h4.71v5.21h-4.71zM564.80 52.71h4.71v5.21h-4.71zM583.63 52.71h4.71v5.21h-4.71zM593.05 52.71h4.71v5.21h-4.71zM442.41 57.90h4.71v5.21h-4.71zM456.53 57.90h14.12v5.21h-14.12zM508.31 57.90h4.71v5.21h-4.71zM583.63 57.90h4.71v5.21h-4.71zM447.12 63.08h4.71v5.21h-4.71zM517.73 63.08h9.42v5.21h-9.42zM555.39 63.08h4.71v5.21h-4.71zM574.22 63.08h4.71v5.21h-4.71zM447.12 68.27h4.71v5.21h-4.71zM517.73 68.27h9.42v5.21h-9.42zM555.39 68.27h4.71v5.21h-4.71zM574.22 68.27h4.71v5.21h-4.71zM437.70 73.46h14.12v5.21h-14.12zM461.24 73.46h4.71v5.21h-4.71zM508.31 73.46h4.71v5.21h-4.71zM442.41 78.64h4.71v5.21h-4.71zM451.82 78.64h14.12v5.21h-14.12zM508.31 78.64h4.71v5.21h-4.71zM578.92 78.64h4.71v5.21h-4.71zM588.34 78.64h9.42v5.21h-9.42zM616.59 78.64h9.42v5.21h-9.42zM437.70 83.83h4.71v5.21h-4.71zM451.82 83.83h14.12v5.21h-14.12zM508.31 83.83h4.71v5.21h-4.71zM517.73 83.83h9.42v5.21h-9.42zM550.68 83.83h9.42v5.21h-9.42zM564.80 83.83h9.42v5.21h-9.42zM593.05 83.83h4.71v5.21h-4.71zM621.29 83.83h4.71v5.21h-4.71zM437.70 89.01h4.71v5.21h-4.71zM456.53 89.01h9.42v5.21h-9.42zM560.10 89.01h4.71v5.21h-4.71zM569.51 89.01h4.71v5.21h-4.71zM583.63 89.01h4.71v5.21h-4.71zM437.70 94.20h4.71v5.21h-4.71zM451.82 94.20h14.12v5.21h-14.12zM550.68 94.20h4.71v5.21h-4.71zM437.70 99.38h4.71v5.21h-4.71zM451.82 99.38h14.12v5.21h-14.12zM470.65 99.38h4.71v5.21h-4.71zM560.10 99.38h42.37v5.21h-42.37zM611.88 99.38h4.71v5.21h-4.71zM621.29 99.38h4.71v5.21h-4.71zM442.41 104.57h4.71v5.21h-4.71zM451.82 104.57h4.71v5.21h-4.71zM480.07 104.57h18.83v5.21h-18.83zM522.43 104.57h18.83v5.21h-18.83zM555.39 104.57h14.12v5.21h-14.12zM588.34 104.57h4.71v5.21h-4.71zM621.29 104.57h4.71v5.21h-4.71zM437.70 109.75h4.71v5.21h-4.71zM447.12 109.75h4.71v5.21h-4.71zM456.53 109.75h4.71v5.21h-4.71zM465.94 109.75h4.71v5.21h-4.71zM480.07 109.75h4.71v5.21h-4.71zM513.02 109.75h9.42v5.21h-9.42zM550.68 109.75h4.71v5.21h-4.71zM574.22 109.75h14.12v5.21h-14.12zM465.94 114.94h4.71v5.21h-4.71zM508.31 114.94h4.71v5.21h-4.71zM550.68 114.94h4.71v5.21h-4.71zM578.92 114.94h4.71v5.21h-4.71zM437.70 120.13h9.42v5.21h-9.42zM451.82 120.13h9.42v5.21h-9.42zM470.65 120.13h4.71v5.21h-4.71zM494.19 120.13h4.71v5.21h-4.71zM513.02 120.13h4.71v5.21h-4.71zM531.85 120.13h9.42v5.21h-9.42zM588.34 120.13h4.71v5.21h-4.71zM621.29 120.13h4.71v5.21h-4.71zM456.53 125.31h14.12v5.21h-14.12zM475.36 125.31h4.71v5.21h-4.71zM503.61 125.31h9.42v5.21h-9.42zM550.68 125.31h4.71v5.21h-4.71zM560.10 125.31h4.71v5.21h-4.71zM569.51 125.31h14.12v5.21h-14.12zM602.46 125.31h4.71v5.21h-4.71zM437.70 130.50h4.71v5.21h-4.71zM451.82 130.50h4.71v5.21h-4.71zM461.24 130.50h4.71v5.21h-4.71zM480.07 130.50h4.71v5.21h-4.71zM513.02 130.50h4.71v5.21h-4.71zM522.43 130.50h9.42v5.21h-9.42zM555.39 130.50h14.12v5.21h-14.12zM607.17 130.50h4.71v5.21h-4.71zM616.59 130.50h4.71v5.21h-4.71zM437.70 135.68h9.42v5.21h-9.42zM461.24 135.68h4.71v5.21h-4.71zM489.48 135.68h4.71v5.21h-4.71zM541.26 135.68h9.42v5.21h-9.42zM569.51 135.68h4.71v5.21h-4.71zM470.65 140.87h4.71v5.21h-4.71zM489.48 140.87h4.71v5.21h-4.71zM442.41 146.05h9.42v5.21h-9.42zM461.24 146.05h9.42v5.21h-9.42zM498.90 146.05h9.42v5.21h-9.42zM437.70 151.24h14.12v5.21h-14.12zM456.53 151.24h9.42v5.21h-9.42zM437.70 156.42h4.71v5.21h-4.71zM456.53 156.42h9.42v5.21h-9.42zM437.70 161.61h14.12v5.21h-14.12zM461.24 161.61h4.71v5.21h-4.71zM470.65 161.61h4.71v5.21h-4.71zM503.61 161.61h4.71v5.21h-4.71zM541.26 161.61h14.12v5.21h-14.12zM574.22 161.61h4.71v5.21h-4.71zM465.94 166.80h4.71v5.21h-4.71zM498.90 166.80h9.42v5.21h-9.42zM437.70 171.98h4.71v5.21h-4.71zM456.53 171.98h14.12v5.21h-14.12zM550.68 171.98h4.71v5.21h-4.71zM578.92 171.98h4.71v5.21h-4.71zM437.70 177.17h4.71v5.21h-4.71zM456.53 177.17h9.42v5.21h-9.42zM508.31 177.17h4.71v5.21h-4.71zM550.68 177.17h4.71v5.21h-4.71zM437.70 182.35h14.12v5.21h-14.12zM456.53 182.35h9.42v5.21h-9.42zM470.65 182.35h4.71v5.21h-4.71zM503.61 182.35h4.71v5.21h-4.71zM593.05 182.35h4.71v5.21h-4.71zM602.46 182.35h9.42v5.21h-9.42zM616.59 182.35h4.71v5.21h-4.71zM498.90 187.54h9.42v5.21h-9.42zM437.70 192.72h4.71v5.21h-4.71zM447.12 192.72h4.71v5.21h-4.71zM456.53 192.72h4.71v5.21h-4.71zM465.94 192.72h4.71v5.21h-4.71zM437.70 197.91h4.71v5.21h-4.71zM447.12 197.91h4.71v5.21h-4.71zM456.53 197.91h4.71v5.21h-4.71zM465.94 197.91h4.71v5.21h-4.71zM437.70 203.09h18.83v5.21h-18.83zM461.24 203.09h4.71v5.21h-4.71zM508.31 203.09h4.71v5.21h-4.71zM550.68 203.09h4.71v5.21h-4.71zM560.10 203.09h28.25v5.21h-28.25zM621.29 203.09h4.71v5.21h-4.71zM437.70 208.28h4.71v5.21h-4.71zM456.53 208.28h9.42v5.21h-9.42zM508.31 208.28h4.71v5.21h-4.71zM437.70 213.47h4.71v5.21h-4.71zM456.53 213.47h9.42v5.21h-9.42zM447.12 218.65h4.71v5.21h-4.71zM465.94 218.65h4.71v5.21h-4.71zM494.19 218.65h14.12v5.21h-14.12zM465.94 223.84h4.71v5.21h-4.71zM494.19 223.84h14.12v5.21h-14.12zM475.36 229.02h32.95v5.21h-32.95zM447.12 234.21h4.71v5.21h-4.71zM456.53 234.21h4.71v5.21h-4.71zM437.70 239.39h9.42v5.21h-9.42zM451.82 239.39h4.71v5.21h-4.71zM475.36 239.39h9.42v5.21h-9.42zM489.48 239.39h9.42v5.21h-9.42zM555.39 239.39h4.71v5.21h-4.71zM564.80 239.39h18.83v5.21h-18.83zM437.70 244.58h4.71v5.21h-4.71zM451.82 244.58h4.71v5.21h-4.71zM480.07 244.58h4.71v5.21h-4.71zM494.19 244.58h9.42v5.21h-9.42zM583.63 244.58h9.42v5.21h-9.42zM475.36 249.76h4.71v5.21h-4.71zM484.77 249.76h14.12v5.21h-14.12zM503.61 249.76h4.71v5.21h-4.71zM522.43 249.76h4.71v5.21h-4.71zM531.85 249.76h4.71v5.21h-4.71zM541.26 249.76h14.12v5.21h-14.12zM560.10 249.76h28.25v5.21h-28.25zM480.07 254.95h23.54v5.21h-23.54zM550.68 254.95h4.71v5.21h-4.71zM560.10 254.95h4.71v5.21h-4.71zM574.22 254.95h9.42v5.21h-9.42zM437.70 260.14h4.71v5.21h-4.71zM447.12 260.14h4.71v5.21h-4.71zM456.53 260.14h4.71v5.21h-4.71zM465.94 260.14h4.71v5.21h-4.71zM517.73 260.14h4.71v5.21h-4.71zM527.14 260.14h4.71v5.21h-4.71zM550.68 260.14h4.71v5.21h-4.71zM560.10 260.14h4.71v5.21h-4.71zM597.75 260.14h18.83v5.21h-18.83zM437.70 265.32h4.71v5.21h-4.71zM475.36 265.32h9.42v5.21h-9.42zM517.73 265.32h4.71v5.21h-4.71zM531.85 265.32h9.42v5.21h-9.42zM583.63 265.32h14.12v5.21h-14.12zM611.88 265.32h4.71v5.21h-4.71zM621.29 265.32h4.71v5.21h-4.71zM475.36 270.51h23.54v5.21h-23.54zM503.61 270.51h4.71v5.21h-4.71zM451.82 275.69h4.71v5.21h-4.71zM480.07 275.69h4.71v5.21h-4.71zM489.48 275.69h9.42v5.21h-9.42zM513.02 275.69h28.25v5.21h-28.25zM593.05 275.69h4.71v5.21h-4.71zM470.65 280.88h23.54v5.21h-23.54zM498.90 280.88h9.42v5.21h-9.42zM442.41 286.06h4.71v5.21h-4.71zM461.24 286.06h4.71v5.21h-4.71zM470.65 286.06h4.71v5.21h-4.71zM498.90 286.06h4.71v5.21h-4.71zM508.31 286.06h4.71v5.21h-4.71zM517.73 286.06h18.83v5.21h-18.83zM564.80 286.06h4.71v5.21h-4.71zM583.63 286.06h4.71v5.21h-4.71zM437.70 291.25h28.25v5.21h-28.25zM498.90 291.25h4.71v5.21h-4.71zM593.05 291.25h9.42v5.21h-9.42zM621.29 291.25h4.71v5.21h-4.71zM437.70 296.44h4.71v5.21h-4.71zM456.53 296.44h18.83v5.21h-18.83zM503.61 296.44h9.42v5.21h-9.42zM593.05 296.44h4.71v5.21h-4.71zM602.46 296.44h18.83v5.21h-18.83zM480.07 301.62h23.54v5.21h-23.54zM531.85 301.62h14.12v5.21h-14.12zM588.34 301.62h14.12v5.21h-14.12zM607.17 301.62h4.71v5.21h-4.71zM616.59 301.62h9.42v5.21h-9.42zM437.70 306.81h4.71v5.21h-4.71zM451.82 306.81h14.12v5.21h-14.12zM437.70 311.99h4.71v5.21h-4.71zM451.82 311.99h4.71v5.21h-4.71zM461.24 311.99h4.71v5.21h-4.71zM498.90 311.99h4.71v5.21h-4.71zM513.02 311.99h28.25v5.21h-28.25zM545.97 311.99h9.42v5.21h-9.42zM560.10 311.99h23.54v5.21h-23.54zM588.34 311.99h4.71v5.21h-4.71zM611.88 311.99h4.71v5.21h-4.71zM621.29 311.99h4.71v5.21h-4.71zM465.94 317.18h4.71v5.21h-4.71zM498.90 317.18h9.42v5.21h-9.42zM517.73 317.18h4.71v5.21h-4.71zM527.14 317.18h14.12v5.21h-14.12zM437.70 322.36h4.71v5.21h-4.71zM451.82 322.36h9.42v5.21h-9.42zM550.68 322.36h4.71v5.21h-4.71zM560.10 322.36h4.71v5.21h-4.71zM569.51 322.36h9.42v5.21h-9.42zM437.70 327.55h4.71v5.21h-4.71zM451.82 327.55h14.12v5.21h-14.12zM480.07 327.55h4.71v5.21h-4.71zM550.68 327.55h4.71v5.21h-4.71zM560.10 327.55h9.42v5.21h-9.42zM574.22 327.55h14.12v5.21h-14.12zM437.70 332.73h4.71v5.21h-4.71zM447.12 332.73h18.83v5.21h-18.83zM480.07 332.73h4.71v5.21h-4.71zM588.34 332.73h28.25v5.21h-28.25zM621.29 332.73h4.71v5.21h-4.71zM484.77 337.92h4.71v5.21h-4.71zM494.19 337.92h9.42v5.21h-9.42zM437.70 343.11h9.42v5.21h-9.42zM451.82 343.11h9.42v5.21h-9.42zM465.94 343.11h4.71v5.21h-4.71zM621.29 343.11h4.71v5.21h-4.71zM447.12 348.29h4.71v5.21h-4.71zM456.53 348.29h9.42v5.21h-9.42zM470.65 348.29h4.71v5.21h-4.71zM498.90 348.29h9.42v5.21h-9.42zM447.12 353.48h4.71v5.21h-4.71zM437.70 358.66h4.71v5.21h-4.71zM456.53 358.66h4.71v5.21h-4.71zM508.31 358.66h4.71v5.21h-4.71zM541.26 358.66h4.71v5.21h-4.71zM550.68 358.66h4.71v5.21h-4.71zM574.22 358.66h9.42v5.21h-9.42zM451.82 363.85h4.71v5.21h-4.71zM461.24 363.85h9.42v5.21h-9.42zM494.19 363.85h9.42v5.21h-9.42zM527.14 363.85h14.12v5.21h-14.12zM545.97 363.85h4.71v5.21h-4.71zM560.10 363.85h4.71v5.21h-4.71zM569.51 363.85h4.71v5.21h-4.71zM578.92 363.85h4.71v5.21h-4.71zM593.05 363.85h14.12v5.21h-14.12zM616.59 363.85h4.71v5.21h-4.71zM489.48 369.03h18.83v5.21h-18.83zM555.39 369.03h4.71v5.21h-4.71zM437.70 374.22h4.71v5.21h-4.71zM451.82 374.22h14.12v5.21h-14.12zM456.53 379.40h9.42v5.21h-9.42zM489.48 379.40h4.71v5.21h-4.71zM498.90 379.40h9.42v5.21h-9.42zM437.70 384.59h4.71v5.21h-4.71zM480.07 384.59h4.71v5.21h-4.71zM489.48 384.59h9.42v5.21h-9.42zM513.02 384.59h28.25v5.21h-28.25zM550.68 384.59h4.71v5.21h-4.71zM560.10 384.59h4.71v5.21h-4.71zM569.51 384.59h4.71v5.21h-4.71zM616.59 384.59h4.71v5.21h-4.71zM475.36 389.78h14.12v5.21h-14.12zM531.85 389.78h65.91v5.21h-65.91zM437.70 394.96h9.42v5.21h-9.42zM451.82 394.96h4.71v5.21h-4.71zM480.07 394.96h4.71v5.21h-4.71zM513.02 394.96h28.25v5.21h-28.25zM555.39 394.96h9.42v5.21h-9.42zM588.34 394.96h4.71v5.21h-4.71zM621.29 394.96h4.71v5.21h-4.71zM480.07 400.15h18.83v5.21h-18.83zM513.02 400.15h37.66v5.21h-37.66zM555.39 400.15h18.83v5.21h-18.83zM588.34 400.15h4.71v5.21h-4.71zM621.29 400.15h4.71v5.21h-4.71zM470.65 405.33h28.25v5.21h-28.25zM461.24 410.52h4.71v5.21h-4.71zM475.36 410.52h9.42v5.21h-9.42zM489.48 410.52h9.42v5.21h-9.42zM602.46 410.52h4.71v5.21h-4.71zM616.59 410.52h4.71v5.21h-4.71zM437.70 415.70h4.71v5.21h-4.71zM451.82 415.70h4.71v5.21h-4.71zM461.24 415.70h4.71v5.21h-4.71zM470.65 415.70h9.42v5.21h-9.42zM461.24 420.89h4.71v5.21h-4.71zM494.19 420.89h4.71v5.21h-4.71zM503.61 420.89h4.71v5.21h-4.71zM588.34 420.89h9.42v5.21h-9.42zM602.46 420.89h9.42v5.21h-9.42zM616.59 420.89h9.42v5.21h-9.42zM437.70 426.07h4.71v5.21h-4.71zM447.12 426.07h9.42v5.21h-9.42zM484.77 426.07h4.71v5.21h-4.71zM437.70 431.26h4.71v5.21h-4.71zM470.65 431.26h28.25v5.21h-28.25zM437.70 436.45h4.71v5.21h-4.71zM451.82 436.45h4.71v5.21h-4.71zM461.24 436.45h4.71v5.21h-4.71zM470.65 436.45h9.42v5.21h-9.42zM484.77 436.45h4.71v5.21h-4.71zM517.73 436.45h4.71v5.21h-4.71zM574.22 436.45h4.71v5.21h-4.71zM465.94 441.63h4.71v5.21h-4.71zM475.36 441.63h4.71v5.21h-4.71zM489.48 441.63h18.83v5.21h-18.83zM513.02 441.63h4.71v5.21h-4.71zM522.43 441.63h14.12v5.21h-14.12zM545.97 441.63h4.71v5.21h-4.71zM588.34 441.63h14.12v5.21h-14.12zM607.17 441.63h9.42v5.21h-9.42zM621.29 441.63h4.71v5.21h-4.71zM470.65 446.82h4.71v5.21h-4.71zM489.48 446.82h14.12v5.21h-14.12zM560.10 446.82h4.71v5.21h-4.71zM569.51 446.82h4.71v5.21h-4.71zM451.82 452.00h4.71v5.21h-4.71zM489.48 452.00h4.71v5.21h-4.71zM550.68 452.00h4.71v5.21h-4.71zM560.10 452.00h9.42v5.21h-9.42zM583.63 452.00h4.71v5.21h-4.71zM470.65 457.19h4.71v5.21h-4.71zM480.07 457.19h9.42v5.21h-9.42zM494.19 457.19h4.71v5.21h-4.71zM550.68 457.19h4.71v5.21h-4.71zM574.22 457.19h14.12v5.21h-14.12zM593.05 457.19h4.71v5.21h-4.71zM621.29 457.19h4.71v5.21h-4.71zM470.65 462.37h4.71v5.21h-4.71zM480.07 462.37h18.83v5.21h-18.83zM513.02 462.37h4.71v5.21h-4.71zM527.14 462.37h23.54v5.21h-23.54zM437.70 467.56h4.71v5.21h-4.71zM451.82 467.56h4.71v5.21h-4.71zM461.24 467.56h4.71v5.21h-4.71zM480.07 467.56h18.83v5.21h-18.83zM578.92 467.56h9.42v5.21h-9.42zM461.24 472.74h4.71v5.21h-4.71zM489.48 472.74h9.42v5.21h-9.42zM611.88 472.74h4.71v5.21h-4.71zM461.24 477.93h4.71v5.21h-4.71zM475.36 477.93h4.71v5.21h-4.71zM489.48 477.93h14.12v5.21h-14.12zM536.56 477.93h4.71v5.21h-4.71zM545.97 477.93h4.71v5.21h-4.71zM437.70 483.12h4.71v5.21h-4.71zM451.82 483.12h4.71v5.21h-4.71zM461.24 483.12h4.71v5.21h-4.71zM470.65 483.12h9.42v5.21h-9.42zM513.02 483.12h28.25v5.21h-28.25zM588.34 483.12h9.42v5.21h-9.42zM611.88 483.12h4.71v5.21h-4.71zM621.29 483.12h4.71v5.21h-4.71zM461.24 488.30h4.71v5.21h-4.71zM475.36 488.30h14.12v5.21h-14.12zM494.19 488.30h4.71v5.21h-4.71zM545.97 488.30h4.71v5.21h-4.71zM437.70 493.49h4.71v5.21h-4.71zM451.82 493.49h4.71v5.21h-4.71zM461.24 493.49h4.71v5.21h-4.71zM470.65 493.49h9.42v5.21h-9.42zM621.29 493.49h4.71v5.21h-4.71zM442.41 498.67h14.12v5.21h-14.12zM583.63 498.67h9.42v5.21h-9.42zM611.88 498.67h4.71v5.21h-4.71zM437.70 503.86h14.12v5.21h-14.12zM456.53 503.86h14.12v5.21h-14.12zM437.70 509.04h32.95v5.21h-32.95zM531.85 509.04h9.42v5.21h-9.42zM480.07 514.23h4.71v5.21h-4.71zM489.48 514.23h4.71v5.21h-4.71zM522.43 514.23h4.71v5.21h-4.71zM531.85 514.23h9.42v5.21h-9.42zM545.97 514.23h4.71v5.21h-4.71zM437.70 519.41h4.71v5.21h-4.71zM447.12 519.41h18.83v5.21h-18.83zM475.36 519.41h4.71v5.21h-4.71zM541.26 519.41h9.42v5.21h-9.42zM574.22 519.41h4.71v5.21h-4.71zM583.63 519.41h9.42v5.21h-9.42zM621.29 519.41h4.71v5.21h-4.71z"/>
<path fill="#f68a8a" d="M583.63 42.34h4.71v5.21h-4.71zM593.05 42.34h4.71v5.21h-4.71zM555.39 52.71h4.71v5.21h-4.71zM583.63 63.08h4.71v5.21h-4.71zM593.05 63.08h4.71v5.21h-4.71zM583.63 68.27h4.71v5.21h-4.71zM593.05 68.27h4.71v5.21h-4.71zM574.22 83.83h14.12v5.21h-14.12zM574.22 89.01h9.42v5.21h-9.42zM550.68 99.38h4.71v5.21h-4.71zM513.02 104.57h9.42v5.21h-9.42zM607.17 120.13h14.12v5.21h-14.12zM597.75 125.31h4.71v5.21h-4.71zM517.73 130.50h4.71v5.21h-4.71zM550.68 130.50h4.71v5.21h-4.71zM611.88 130.50h4.71v5.21h-4.71zM550.68 135.68h4.71v5.21h-4.71zM574.22 135.68h4.71v5.21h-4.71zM588.34 135.68h4.71v5.21h-4.71zM611.88 135.68h4.71v5.21h-4.71zM583.63 161.61h4.71v5.21h-4.71zM588.34 182.35h4.71v5.21h-4.71zM597.75 182.35h4.71v5.21h-4.71zM611.88 182.35h4.71v5.21h-4.71zM621.29 182.35h4.71v5.21h-4.71zM550.68 239.39h4.71v5.21h-4.71zM560.10 239.39h4.71v5.21h-4.71zM583.63 239.39h4.71v5.21h-4.71zM555.39 244.58h4.71v5.21h-4.71zM569.51 244.58h14.12v5.21h-14.12zM607.17 244.58h9.42v5.21h-9.42zM621.29 244.58h4.71v5.21h-4.71zM513.02 249.76h9.42v5.21h-9.42zM527.14 249.76h4.71v5.21h-4.71zM536.56 249.76h4.71v5.21h-4.71zM597.75 265.32h14.12v5.21h-14.12zM616.59 265.32h4.71v5.21h-4.71zM588.34 275.69h4.71v5.21h-4.71zM611.88 275.69h4.71v5.21h-4.71zM621.29 275.69h4.71v5.21h-4.71zM513.02 286.06h4.71v5.21h-4.71zM541.26 286.06h9.42v5.21h-9.42zM560.10 286.06h4.71v5.21h-4.71zM569.51 286.06h9.42v5.21h-9.42zM555.39 291.25h4.71v5.21h-4.71zM588.34 296.44h4.71v5.21h-4.71zM602.46 301.62h4.71v5.21h-4.71zM611.88 301.62h4.71v5.21h-4.71zM513.02 306.81h28.25v5.21h-28.25zM588.34 306.81h37.66v5.21h-37.66zM541.26 311.99h4.71v5.21h-4.71zM513.02 317.18h4.71v5.21h-4.71zM522.43 317.18h4.71v5.21h-4.71zM541.26 317.18h9.42v5.21h-9.42zM564.80 317.18h4.71v5.21h-4.71zM583.63 317.18h4.71v5.21h-4.71zM569.51 327.55h4.71v5.21h-4.71zM545.97 332.73h4.71v5.21h-4.71zM555.39 332.73h4.71v5.21h-4.71zM513.02 358.66h28.25v5.21h-28.25zM541.26 363.85h4.71v5.21h-4.71zM588.34 363.85h4.71v5.21h-4.71zM607.17 363.85h9.42v5.21h-9.42zM621.29 363.85h4.71v5.21h-4.71zM517.73 369.03h4.71v5.21h-4.71zM583.63 369.03h4.71v5.21h-4.71zM555.39 384.59h4.71v5.21h-4.71zM564.80 384.59h4.71v5.21h-4.71zM607.17 384.59h9.42v5.21h-9.42zM593.05 400.15h28.25v5.21h-28.25zM597.75 420.89h4.71v5.21h-4.71zM611.88 420.89h4.71v5.21h-4.71zM513.02 436.45h4.71v5.21h-4.71zM522.43 436.45h14.12v5.21h-14.12zM541.26 436.45h9.42v5.21h-9.42zM555.39 436.45h9.42v5.21h-9.42zM569.51 436.45h4.71v5.21h-4.71zM536.56 441.63h4.71v5.21h-4.71zM555.39 452.00h4.71v5.21h-4.71zM569.51 457.19h4.71v5.21h-4.71zM588.34 457.19h4.71v5.21h-4.71zM597.75 457.19h18.83v5.21h-18.83zM550.68 467.56h4.71v5.21h-4.71zM574.22 467.56h4.71v5.21h-4.71zM593.05 467.56h4.71v5.21h-4.71zM550.68 472.74h4.71v5.21h-4.71zM583.63 472.74h18.83v5.21h-18.83zM607.17 472.74h4.71v5.21h-4.71zM621.29 472.74h4.71v5.21h-4.71zM597.75 483.12h14.12v5.21h-14.12zM616.59 483.12h4.71v5.21h-4.71zM588.34 493.49h4.71v5.21h-4.71zM607.17 493.49h4.71v5.21h-4.71zM616.59 493.49h4.71v5.21h-4.71zM541.26 498.67h9.42v5.21h-9.42zM569.51 498.67h4.71v5.21h-4.71zM578.92 498.67h4.71v5.21h-4.71zM607.17 498.67h4.71v5.21h-4.71zM616.59 498.67h4.71v5.21h-4.71zM513.02 509.04h18.83v5.21h-18.83zM541.26 509.04h9.42v5.21h-9.42zM555.39 509.04h4.71v5.21h-4.71zM513.02 514.23h9.42v5.21h-9.42zM527.14 514.23h4.71v5.21h-4.71zM531.85 519.41h9.42v5.21h-9.42zM550.68 519.41h23.54v5.21h-23.54zM607.17 519.41h14.12v5.21h-14.12z"/>
<path fill="#fe0808" d="M465.94 21.60h4.71v5.21h-4.71zM555.39 42.34h4.71v5.21h-4.71zM442.41 47.53h4.71v5.21h-4.71zM550.68 89.01h4.71v5.21h-4.71zM475.36 104.57h4.71v5.21h-4.71zM597.75 104.57h23.54v5.21h-23.54zM503.61 114.94h4.71v5.21h-4.71zM597.75 120.13h9.42v5.21h-9.42zM597.75 130.50h9.42v5.21h-9.42zM513.02 135.68h28.25v5.21h-28.25zM555.39 135.68h14.12v5.21h-14.12zM597.75 135.68h14.12v5.21h-14.12zM616.59 135.68h4.71v5.21h-4.71zM513.02 140.87h112.98v5.21h-112.98zM508.31 146.05h4.71v5.21h-4.71zM508.31 166.80h4.71v5.21h-4.71zM508.31 187.54h4.71v5.21h-4.71zM508.31 218.65h4.71v5.21h-4.71zM508.31 223.84h4.71v5.21h-4.71zM513.02 239.39h37.66v5.21h-37.66zM588.34 239.39h37.66v5.21h-37.66zM513.02 244.58h42.37v5.21h-42.37zM560.10 244.58h9.42v5.21h-9.42zM597.75 244.58h9.42v5.21h-9.42zM616.59 244.58h4.71v5.21h-4.71zM442.41 260.14h4.71v5.21h-4.71zM597.75 275.69h14.12v5.21h-14.12zM616.59 275.69h4.71v5.21h-4.71zM550.68 286.06h4.71v5.21h-4.71zM578.92 286.06h4.71v5.21h-4.71zM513.02 291.25h42.37v5.21h-42.37zM560.10 291.25h28.25v5.21h-28.25zM597.75 296.44h4.71v5.21h-4.71zM621.29 296.44h4.71v5.21h-4.71zM470.65 306.81h4.71v5.21h-4.71zM541.26 306.81h47.08v5.21h-47.08zM550.68 317.18h4.71v5.21h-4.71zM560.10 317.18h4.71v5.21h-4.71zM569.51 317.18h14.12v5.21h-14.12zM513.02 327.55h37.66v5.21h-37.66zM588.34 327.55h37.66v5.21h-37.66zM513.02 332.73h32.95v5.21h-32.95zM550.68 332.73h4.71v5.21h-4.71zM560.10 332.73h28.25v5.21h-28.25zM513.02 337.92h112.98v5.21h-112.98zM470.65 343.11h4.71v5.21h-4.71zM545.97 358.66h4.71v5.21h-4.71zM470.65 363.85h4.71v5.21h-4.71zM513.02 369.03h4.71v5.21h-4.71zM522.43 369.03h32.95v5.21h-32.95zM560.10 369.03h23.54v5.21h-23.54zM513.02 374.22h75.32v5.21h-75.32zM475.36 384.59h4.71v5.21h-4.71zM597.75 384.59h9.42v5.21h-9.42zM597.75 394.96h23.54v5.21h-23.54zM513.02 405.33h112.98v5.21h-112.98zM513.02 410.52h75.32v5.21h-75.32zM513.02 415.70h112.98v5.21h-112.98zM470.65 420.89h4.71v5.21h-4.71zM513.02 420.89h75.32v5.21h-75.32zM513.02 426.07h112.98v5.21h-112.98zM513.02 431.26h112.98v5.21h-112.98zM536.56 436.45h4.71v5.21h-4.71zM564.80 436.45h4.71v5.21h-4.71zM588.34 436.45h37.66v5.21h-37.66zM541.26 441.63h4.71v5.21h-4.71zM550.68 441.63h37.66v5.21h-37.66zM465.94 452.00h4.71v5.21h-4.71zM513.02 452.00h37.66v5.21h-37.66zM569.51 452.00h14.12v5.21h-14.12zM588.34 452.00h37.66v5.21h-37.66zM513.02 457.19h37.66v5.21h-37.66zM555.39 457.19h14.12v5.21h-14.12zM616.59 457.19h4.71v5.21h-4.71zM513.02 467.56h37.66v5.21h-37.66zM555.39 467.56h18.83v5.21h-18.83zM588.34 467.56h4.71v5.21h-4.71zM597.75 467.56h28.25v5.21h-28.25zM513.02 472.74h37.66v5.21h-37.66zM555.39 472.74h28.25v5.21h-28.25zM602.46 472.74h4.71v5.21h-4.71zM616.59 472.74h4.71v5.21h-4.71zM470.65 477.93h4.71v5.21h-4.71zM588.34 477.93h37.66v5.21h-37.66zM513.02 493.49h75.32v5.21h-75.32zM597.75 493.49h9.42v5.21h-9.42zM611.88 493.49h4.71v5.21h-4.71zM513.02 498.67h28.25v5.21h-28.25zM550.68 498.67h18.83v5.21h-18.83zM574.22 498.67h4.71v5.21h-4.71zM597.75 498.67h9.42v5.21h-9.42zM550.68 509.04h4.71v5.21h-4.71zM560.10 509.04h28.25v5.21h-28.25zM475.36 514.23h4.71v5.21h-4.71zM513.02 519.41h18.83v5.21h-18.83zM597.75 519.41h9.42v5.21h-9.42z"/>
<path fill="#989cf6" d="M484.77 26.79h4.71v5.21h-4.71zM470.65 31.97h4.71v5.21h-4.71zM494.19 31.97h4.71v5.21h-4.71zM475.36 37.16h4.71v5.21h-4.71zM470.65 42.34h4.71v5.21h-4.71zM494.19 42.34h4.71v5.21h-4.71zM494.19 52.71h4.71v5.21h-4.71zM494.19 57.90h9.42v5.21h-9.42zM475.36 78.64h4.71v5.21h-4.71zM494.19 83.83h9.42v5.21h-9.42zM508.31 109.75h4.71v5.21h-4.71zM480.07 114.94h4.71v5.21h-4.71zM503.61 120.13h9.42v5.21h-9.42zM480.07 125.31h4.71v5.21h-4.71zM470.65 130.50h4.71v5.21h-4.71zM503.61 130.50h9.42v5.21h-9.42zM503.61 135.68h4.71v5.21h-4.71zM503.61 140.87h4.71v5.21h-4.71zM480.07 146.05h4.71v5.21h-4.71zM475.36 151.24h9.42v5.21h-9.42zM475.36 156.42h9.42v5.21h-9.42zM475.36 161.61h9.42v5.21h-9.42zM494.19 161.61h4.71v5.21h-4.71zM451.82 166.80h4.71v5.21h-4.71zM475.36 171.98h9.42v5.21h-9.42zM475.36 177.17h4.71v5.21h-4.71zM480.07 182.35h4.71v5.21h-4.71zM475.36 192.72h9.42v5.21h-9.42zM475.36 197.91h4.71v5.21h-4.71zM475.36 213.47h4.71v5.21h-4.71zM470.65 223.84h4.71v5.21h-4.71zM451.82 229.02h4.71v5.21h-4.71zM461.24 229.02h4.71v5.21h-4.71zM475.36 234.21h4.71v5.21h-4.71zM470.65 239.39h4.71v5.21h-4.71zM508.31 244.58h4.71v5.21h-4.71zM456.53 249.76h4.71v5.21h-4.71zM470.65 254.95h4.71v5.21h-4.71zM447.12 265.32h4.71v5.21h-4.71zM456.53 270.51h4.71v5.21h-4.71zM508.31 270.51h4.71v5.21h-4.71zM503.61 275.69h4.71v5.21h-4.71zM442.41 280.88h9.42v5.21h-9.42zM475.36 286.06h4.71v5.21h-4.71zM484.77 286.06h9.42v5.21h-9.42zM470.65 291.25h4.71v5.21h-4.71zM508.31 291.25h4.71v5.21h-4.71zM480.07 296.44h9.42v5.21h-9.42zM442.41 301.62h9.42v5.21h-9.42zM456.53 301.62h4.71v5.21h-4.71zM465.94 301.62h4.71v5.21h-4.71zM508.31 306.81h4.71v5.21h-4.71zM475.36 311.99h9.42v5.21h-9.42zM475.36 317.18h14.12v5.21h-14.12zM470.65 322.36h4.71v5.21h-4.71zM508.31 327.55h4.71v5.21h-4.71zM489.48 332.73h4.71v5.21h-4.71zM447.12 337.92h4.71v5.21h-4.71zM456.53 337.92h4.71v5.21h-4.71zM480.07 343.11h9.42v5.21h-9.42zM475.36 348.29h9.42v5.21h-9.42zM470.65 353.48h4.71v5.21h-4.71zM484.77 358.66h4.71v5.21h-4.71zM442.41 363.85h4.71v5.21h-4.71zM442.41 369.03h9.42v5.21h-9.42zM480.07 374.22h9.42v5.21h-9.42zM442.41 379.40h9.42v5.21h-9.42zM475.36 379.40h4.71v5.21h-4.71zM508.31 384.59h4.71v5.21h-4.71zM447.12 389.78h4.71v5.21h-4.71zM465.94 389.78h4.71v5.21h-4.71zM503.61 394.96h9.42v5.21h-9.42zM508.31 400.15h4.71v5.21h-4.71zM447.12 405.33h4.71v5.21h-4.71zM447.12 410.52h4.71v5.21h-4.71zM503.61 415.70h4.71v5.21h-4.71zM447.12 420.89h4.71v5.21h-4.71zM508.31 426.07h4.71v5.21h-4.71zM465.94 431.26h4.71v5.21h-4.71zM508.31 431.26h4.71v5.21h-4.71zM508.31 436.45h4.71v5.21h-4.71zM447.12 441.63h4.71v5.21h-4.71zM508.31 441.63h4.71v5.21h-4.71zM442.41 446.82h9.42v5.21h-9.42zM447.12 457.19h4.71v5.21h-4.71zM465.94 457.19h4.71v5.21h-4.71zM508.31 457.19h4.71v5.21h-4.71zM465.94 462.37h4.71v5.21h-4.71zM508.31 462.37h4.71v5.21h-4.71zM508.31 467.56h4.71v5.21h-4.71zM447.12 472.74h4.71v5.21h-4.71zM508.31 472.74h4.71v5.21h-4.71zM442.41 477.93h9.42v5.21h-9.42zM503.61 483.12h4.71v5.21h-4.71zM442.41 488.30h9.42v5.21h-9.42zM456.53 488.30h4.71v5.21h-4.71zM508.31 488.30h4.71v5.21h-4.71zM480.07 493.49h4.71v5.21h-4.71zM508.31 493.49h4.71v5.21h-4.71zM503.61 498.67h9.42v5.21h-9.42zM475.36 503.86h4.71v5.21h-4.71zM484.77 503.86h9.42v5.21h-9.42zM475.36 509.04h23.54v5.21h-23.54zM503.61 519.41h9.42v5.21h-9.42z"/>
<path fill="#f78c8c" d="M442.41 26.79h9.42v5.21h-9.42zM465.94 26.79h4.71v5.21h-4.71zM447.12 31.97h4.71v5.21h-4.71zM442.41 37.16h4.71v5.21h-4.71zM447.12 42.34h4.71v5.21h-4.71zM508.31 47.53h4.71v5.21h-4.71zM456.53 52.71h4.71v5.21h-4.71zM447.12 57.90h4.71v5.21h-4.71zM484.77 63.08h4.71v5.21h-4.71zM508.31 63.08h4.71v5.21h-4.71zM484.77 68.27h4.71v5.21h-4.71zM508.31 68.27h4.71v5.21h-4.71zM456.53 73.46h4.71v5.21h-4.71zM465.94 73.46h4.71v5.21h-4.71zM447.12 78.64h4.71v5.21h-4.71zM442.41 83.83h9.42v5.21h-9.42zM442.41 89.01h9.42v5.21h-9.42zM465.94 89.01h4.71v5.21h-4.71zM442.41 94.20h9.42v5.21h-9.42zM465.94 94.20h4.71v5.21h-4.71zM442.41 99.38h9.42v5.21h-9.42zM465.94 99.38h4.71v5.21h-4.71zM447.12 114.94h4.71v5.21h-4.71zM475.36 120.13h4.71v5.21h-4.71zM442.41 130.50h9.42v5.21h-9.42zM475.36 130.50h4.71v5.21h-4.71zM475.36 135.68h4.71v5.21h-4.71zM475.36 140.87h4.71v5.21h-4.71zM465.94 151.24h4.71v5.21h-4.71zM508.31 151.24h4.71v5.21h-4.71zM442.41 156.42h9.42v5.21h-9.42zM465.94 156.42h4.71v5.21h-4.71zM456.53 161.61h4.71v5.21h-4.71zM465.94 161.61h4.71v5.21h-4.71zM442.41 171.98h9.42v5.21h-9.42zM508.31 171.98h4.71v5.21h-4.71zM442.41 177.17h9.42v5.21h-9.42zM465.94 177.17h4.71v5.21h-4.71zM465.94 182.35h4.71v5.21h-4.71zM508.31 182.35h4.71v5.21h-4.71zM442.41 192.72h4.71v5.21h-4.71zM508.31 192.72h4.71v5.21h-4.71zM442.41 197.91h4.71v5.21h-4.71zM465.94 203.09h4.71v5.21h-4.71zM442.41 208.28h9.42v5.21h-9.42zM465.94 208.28h4.71v5.21h-4.71zM442.41 213.47h9.42v5.21h-9.42zM465.94 213.47h4.71v5.21h-4.71zM508.31 213.47h4.71v5.21h-4.71zM508.31 229.02h4.71v5.21h-4.71zM442.41 234.21h4.71v5.21h-4.71zM465.94 234.21h4.71v5.21h-4.71zM508.31 234.21h4.71v5.21h-4.71zM442.41 244.58h4.71v5.21h-4.71zM475.36 244.58h4.71v5.21h-4.71zM480.07 249.76h4.71v5.21h-4.71zM498.90 249.76h4.71v5.21h-4.71zM503.61 254.95h9.42v5.21h-9.42zM498.90 270.51h4.71v5.21h-4.71zM437.70 275.69h4.71v5.21h-4.71zM475.36 275.69h4.71v5.21h-4.71zM494.19 280.88h4.71v5.21h-4.71zM465.94 286.06h4.71v5.21h-4.71zM503.61 286.06h4.71v5.21h-4.71zM465.94 291.25h4.71v5.21h-4.71zM475.36 301.62h4.71v5.21h-4.71zM465.94 311.99h9.42v5.21h-9.42zM470.65 317.18h4.71v5.21h-4.71zM508.31 317.18h4.71v5.21h-4.71zM442.41 322.36h9.42v5.21h-9.42zM465.94 322.36h4.71v5.21h-4.71zM442.41 327.55h9.42v5.21h-9.42zM465.94 327.55h4.71v5.21h-4.71zM442.41 332.73h4.71v5.21h-4.71zM465.94 332.73h4.71v5.21h-4.71zM470.65 337.92h9.42v5.21h-9.42zM489.48 337.92h4.71v5.21h-4.71zM461.24 343.11h4.71v5.21h-4.71zM465.94 348.29h4.71v5.21h-4.71zM508.31 348.29h4.71v5.21h-4.71zM442.41 353.48h4.71v5.21h-4.71zM465.94 353.48h4.71v5.21h-4.71zM498.90 353.48h4.71v5.21h-4.71zM442.41 358.66h9.42v5.21h-9.42zM465.94 358.66h4.71v5.21h-4.71zM470.65 369.03h4.71v5.21h-4.71zM465.94 374.22h9.42v5.21h-9.42zM465.94 379.40h9.42v5.21h-9.42zM494.19 379.40h4.71v5.21h-4.71zM475.36 394.96h4.71v5.21h-4.71zM475.36 400.15h4.71v5.21h-4.71zM470.65 410.52h4.71v5.21h-4.71zM480.07 426.07h4.71v5.21h-4.71zM503.61 446.82h4.71v5.21h-4.71zM475.36 457.19h4.71v5.21h-4.71zM489.48 457.19h4.71v5.21h-4.71zM475.36 462.37h4.71v5.21h-4.71zM475.36 467.56h4.71v5.21h-4.71zM470.65 472.74h9.42v5.21h-9.42zM470.65 488.30h4.71v5.21h-4.71zM489.48 488.30h4.71v5.21h-4.71zM442.41 493.49h9.42v5.21h-9.42zM437.70 498.67h4.71v5.21h-4.71zM475.36 498.67h4.71v5.21h-4.71zM451.82 503.86h4.71v5.21h-4.71zM470.65 509.04h4.71v5.21h-4.71zM442.41 519.41h4.71v5.21h-4.71z"/>
<path fill="#464af8" d="M470.65 109.75h4.71v5.21h-4.71zM484.77 125.31h4.71v5.21h-4.71zM508.31 239.39h4.71v5.21h-4.71zM508.31 265.32h4.71v5.21h-4.71zM508.31 275.69h4.71v5.21h-4.71zM508.31 415.70h4.71v5.21h-4.71zM508.31 483.12h4.71v5.21h-4.71zM508.31 514.23h4.71v5.21h-4.71z"/>
<path fill="#8489f6" d="M513.02 21.60h4.71v5.21h-4.71zM527.14 21.60h4.71v5.21h-4.71zM513.02 26.79h37.66v5.21h-37.66zM555.39 26.79h4.71v5.21h-4.71zM564.80 26.79h9.42v5.21h-9.42zM578.92 26.79h32.95v5.21h-32.95zM616.59 26.79h4.71v5.21h-4.71zM527.14 31.97h4.71v5.21h-4.71zM541.26 31.97h9.42v5.21h-9.42zM513.02 37.16h4.71v5.21h-4.71zM527.14 37.16h4.71v5.21h-4.71zM536.56 37.16h14.12v5.21h-14.12zM560.10 37.16h9.42v5.21h-9.42zM513.02 42.34h4.71v5.21h-4.71zM531.85 42.34h4.71v5.21h-4.71zM541.26 42.34h4.71v5.21h-4.71zM513.02 47.53h4.71v5.21h-4.71zM531.85 47.53h18.83v5.21h-18.83zM555.39 47.53h18.83v5.21h-18.83zM588.34 47.53h4.71v5.21h-4.71zM597.75 47.53h23.54v5.21h-23.54zM513.02 52.71h14.12v5.21h-14.12zM536.56 52.71h4.71v5.21h-4.71zM513.02 57.90h4.71v5.21h-4.71zM527.14 57.90h23.54v5.21h-23.54zM560.10 57.90h9.42v5.21h-9.42zM588.34 57.90h4.71v5.21h-4.71zM597.75 57.90h23.54v5.21h-23.54zM531.85 73.46h4.71v5.21h-4.71zM541.26 73.46h4.71v5.21h-4.71zM607.17 73.46h4.71v5.21h-4.71zM513.02 78.64h4.71v5.21h-4.71zM527.14 78.64h4.71v5.21h-4.71zM536.56 78.64h9.42v5.21h-9.42zM555.39 78.64h14.12v5.21h-14.12zM583.63 104.57h4.71v5.21h-4.71zM545.97 109.75h4.71v5.21h-4.71zM517.73 114.94h28.25v5.21h-28.25zM555.39 114.94h4.71v5.21h-4.71zM564.80 114.94h4.71v5.21h-4.71zM593.05 114.94h4.71v5.21h-4.71zM602.46 114.94h18.83v5.21h-18.83zM541.26 120.13h4.71v5.21h-4.71zM574.22 120.13h14.12v5.21h-14.12zM517.73 125.31h4.71v5.21h-4.71zM555.39 125.31h4.71v5.21h-4.71zM607.17 125.31h4.71v5.21h-4.71zM541.26 130.50h9.42v5.21h-9.42zM588.34 254.95h37.66v5.21h-37.66zM545.97 260.14h4.71v5.21h-4.71zM522.43 270.51h9.42v5.21h-9.42zM541.26 270.51h4.71v5.21h-4.71zM555.39 270.51h4.71v5.21h-4.71zM588.34 270.51h37.66v5.21h-37.66zM550.68 275.69h4.71v5.21h-4.71zM578.92 275.69h4.71v5.21h-4.71zM513.02 280.88h4.71v5.21h-4.71zM522.43 280.88h28.25v5.21h-28.25zM555.39 286.06h4.71v5.21h-4.71zM593.05 286.06h4.71v5.21h-4.71zM602.46 286.06h4.71v5.21h-4.71zM616.59 286.06h4.71v5.21h-4.71zM513.02 296.44h4.71v5.21h-4.71zM522.43 296.44h4.71v5.21h-4.71zM550.68 296.44h4.71v5.21h-4.71zM560.10 296.44h28.25v5.21h-28.25zM550.68 301.62h4.71v5.21h-4.71zM574.22 301.62h14.12v5.21h-14.12zM588.34 317.18h4.71v5.21h-4.71zM597.75 317.18h4.71v5.21h-4.71zM611.88 317.18h4.71v5.21h-4.71zM621.29 317.18h4.71v5.21h-4.71zM513.02 343.11h4.71v5.21h-4.71zM527.14 343.11h4.71v5.21h-4.71zM550.68 343.11h37.66v5.21h-37.66zM578.92 394.96h9.42v5.21h-9.42zM602.46 446.82h4.71v5.21h-4.71zM555.39 462.37h18.83v5.21h-18.83zM593.05 462.37h4.71v5.21h-4.71zM621.29 462.37h4.71v5.21h-4.71zM550.68 483.12h4.71v5.21h-4.71zM574.22 483.12h14.12v5.21h-14.12zM550.68 488.30h32.95v5.21h-32.95zM513.02 503.86h18.83v5.21h-18.83zM550.68 503.86h37.66v5.21h-37.66zM550.68 514.23h18.83v5.21h-18.83zM578.92 514.23h4.71v5.21h-4.71zM602.46 514.23h18.83v5.21h-18.83z"/>
</g>
<text x="457.7" y="14.9" font-size="6.9" font-weight="bold" text-anchor="middle" fill="#111" stroke="#111" stroke-width="0.06">WT #1</text>
<text x="493.9" y="14.9" font-size="6.9" font-weight="bold" text-anchor="middle" fill="#111" stroke="#111" stroke-width="0.06">WT #2</text>
<text x="531.5" y="14.9" font-size="6.9" font-weight="bold" text-anchor="middle" fill="#111" stroke="#111" stroke-width="0.06">KO#1</text>
<text x="568.7" y="14.9" font-size="6.9" font-weight="bold" text-anchor="middle" fill="#111" stroke="#111" stroke-width="0.06">KO#2</text>
<text x="606.6" y="14.9" font-size="6.9" font-weight="bold" text-anchor="middle" fill="#111" stroke="#111" stroke-width="0.06">KO#3</text>
<text x="531.0" y="6.2" font-size="6.9" font-weight="bold" text-anchor="middle" font-style="italic" fill="#111" stroke="#111" stroke-width="0.06">PLA2G7</text>
<text x="568.6" y="6.2" font-size="6.9" font-weight="bold" text-anchor="middle" font-style="italic" fill="#111" stroke="#111" stroke-width="0.06">PLA2G7</text>
<text x="606.2" y="6.2" font-size="6.9" font-weight="bold" text-anchor="middle" font-style="italic" fill="#111" stroke="#111" stroke-width="0.06">PLA2G7</text>
<line x1="475.5" y1="19.4" x2="475.5" y2="23.6" stroke="#222" stroke-width="0.9" />
<line x1="513.0" y1="19.4" x2="513.0" y2="23.6" stroke="#222" stroke-width="0.9" />
<line x1="550.6" y1="19.4" x2="550.6" y2="23.6" stroke="#222" stroke-width="0.9" />
<line x1="588.2" y1="19.4" x2="588.2" y2="23.6" stroke="#222" stroke-width="0.9" />
<text x="431.5" y="65.0" font-size="8.2" font-weight="bold" text-anchor="end" fill="#111" stroke="#111" stroke-width="0.06">FFA</text>
<text x="431.5" y="111.2" font-size="8.2" font-weight="bold" text-anchor="end" fill="#111" stroke="#111" stroke-width="0.06">Cer</text>
<text x="431.5" y="131.1" font-size="8.2" font-weight="bold" text-anchor="end" fill="#111" stroke="#111" stroke-width="0.06">SM</text>
<text x="431.5" y="166.0" font-size="8.2" font-weight="bold" text-anchor="end" fill="#111" stroke="#111" stroke-width="0.06">LysoPC</text>
<text x="431.5" y="180.6" font-size="8.2" font-weight="bold" text-anchor="end" fill="#111" stroke="#111" stroke-width="0.06">LysoPC o</text>
<text x="431.5" y="191.2" font-size="8.2" font-weight="bold" text-anchor="end" fill="#111" stroke="#111" stroke-width="0.06">LysoPE</text>
<text x="431.5" y="204.6" font-size="8.2" font-weight="bold" text-anchor="end" fill="#111" stroke="#111" stroke-width="0.06">LysoPE o</text>
<text x="431.5" y="216.8" font-size="8.2" font-weight="bold" text-anchor="end" fill="#111" stroke="#111" stroke-width="0.06">LysoPG</text>
<text x="431.5" y="227.3" font-size="8.2" font-weight="bold" text-anchor="end" fill="#111" stroke="#111" stroke-width="0.06">LysoPI</text>
<text x="431.5" y="238.0" font-size="8.2" font-weight="bold" text-anchor="end" fill="#111" stroke="#111" stroke-width="0.06">LysoPS</text>
<text x="431.5" y="300.6" font-size="8.2" font-weight="bold" text-anchor="end" fill="#111" stroke="#111" stroke-width="0.06">PC</text>
<text x="431.5" y="381.1" font-size="8.2" font-weight="bold" text-anchor="end" fill="#111" stroke="#111" stroke-width="0.06">PC o</text>
<text x="431.5" y="423.3" font-size="8.2" font-weight="bold" text-anchor="end" fill="#111" stroke="#111" stroke-width="0.06">PE</text>
<text x="431.5" y="480.1" font-size="8.2" font-weight="bold" text-anchor="end" fill="#111" stroke="#111" stroke-width="0.06">PE o,p</text>
<text x="431.5" y="507.0" font-size="8.2" font-weight="bold" text-anchor="end" fill="#111" stroke="#111" stroke-width="0.06">PG</text>
<text x="431.5" y="524.8" font-size="8.2" font-weight="bold" text-anchor="end" fill="#111" stroke="#111" stroke-width="0.06">PI</text>
<line x1="393" y1="105.3" x2="435" y2="105.3" stroke="#777" stroke-width="0.6" stroke-dasharray="1 0.9"/>
<line x1="393" y1="110.4" x2="435" y2="110.4" stroke="#777" stroke-width="0.6" stroke-dasharray="1 0.9"/>
<line x1="393" y1="147.1" x2="435" y2="147.1" stroke="#777" stroke-width="0.6" stroke-dasharray="1 0.9"/>
<line x1="393" y1="172.7" x2="435" y2="172.7" stroke="#777" stroke-width="0.6" stroke-dasharray="1 0.9"/>
<line x1="393" y1="183.4" x2="435" y2="183.4" stroke="#777" stroke-width="0.6" stroke-dasharray="1 0.9"/>
<line x1="393" y1="193.5" x2="435" y2="193.5" stroke="#777" stroke-width="0.6" stroke-dasharray="1 0.9"/>
<line x1="393" y1="209.5" x2="435" y2="209.5" stroke="#777" stroke-width="0.6" stroke-dasharray="1 0.9"/>
<line x1="393" y1="219.0" x2="435" y2="219.0" stroke="#777" stroke-width="0.6" stroke-dasharray="1 0.9"/>
<line x1="393" y1="229.1" x2="435" y2="229.1" stroke="#777" stroke-width="0.6" stroke-dasharray="1 0.9"/>
<line x1="393" y1="240.2" x2="435" y2="240.2" stroke="#777" stroke-width="0.6" stroke-dasharray="1 0.9"/>
<line x1="393" y1="369.3" x2="435" y2="369.3" stroke="#777" stroke-width="0.6" stroke-dasharray="1 0.9"/>
<line x1="393" y1="384.6" x2="435" y2="384.6" stroke="#777" stroke-width="0.6" stroke-dasharray="1 0.9"/>
<line x1="393" y1="457.8" x2="435" y2="457.8" stroke="#777" stroke-width="0.6" stroke-dasharray="1 0.9"/>
<line x1="393" y1="493.4" x2="435" y2="493.4" stroke="#777" stroke-width="0.6" stroke-dasharray="1 0.9"/>
<line x1="393" y1="514.6" x2="435" y2="514.6" stroke="#777" stroke-width="0.6" stroke-dasharray="1 0.9"/>
<g font-size="4.2" fill="#222" stroke="#222" stroke-width="0.08">
<text x="627.3" y="25.69">FFA 8:0</text>
<text x="627.3" y="30.88">FFA 10:1</text>
<text x="627.3" y="36.06">FFA 12:0</text>
<text x="627.3" y="41.25">FFA 14:0</text>
<text x="627.3" y="46.44">FFA 16:0</text>
<text x="627.3" y="51.62">FFA 16:1</text>
<text x="627.3" y="56.81">FFA 18:0</text>
<text x="627.3" y="61.99">FFA 18:1</text>
<text x="627.3" y="67.18">FFA 18:2</text>
<text x="627.3" y="72.36">FFA 18:3</text>
<text x="627.3" y="77.55">FFA 20:0</text>
<text x="627.3" y="82.73">FFA 20:1</text>
<text x="627.3" y="87.92">FFA 20:2</text>
<text x="627.3" y="93.11">FFA 20:4</text>
<text x="627.3" y="98.29">FFA 22:6</text>
<text x="627.3" y="103.48">FFA 24:6</text>
<text x="627.3" y="108.66">Cer d18:1_16:0</text>
<text x="627.3" y="113.85">SM d18:1_14:0</text>
<text x="627.3" y="119.03">SM d32:2</text>
<text x="627.3" y="124.22">SM d18:1_16:0</text>
<text x="627.3" y="129.40">SM d18:2_16:0</text>
<text x="627.3" y="134.59">SM d36:1</text>
<text x="627.3" y="139.78">SM d42:2</text>
<text x="627.3" y="144.96">SM d42:3</text>
<text x="627.3" y="150.15">LysoPC 16:0</text>
<text x="627.3" y="155.33">LysoPC 18:0</text>
<text x="627.3" y="160.52">LysoPC 18:1</text>
<text x="627.3" y="165.70">LysoPC 18:2</text>
<text x="627.3" y="170.89">LysoPC 20:1</text>
<text x="627.3" y="176.07">LysoPC O-16:1</text>
<text x="627.3" y="181.26">LysoPC O-18:1</text>
<text x="627.3" y="186.45">LysoPE 16:0</text>
<text x="627.3" y="191.63">LysoPE 18:1</text>
<text x="627.3" y="196.82">LysoPE O-16:1</text>
<text x="627.3" y="202.00">LysoPE O-18:1</text>
<text x="627.3" y="207.19">LysoPE O-20:1</text>
<text x="627.3" y="212.37">LysoPG 16:0</text>
<text x="627.3" y="217.56">LysoPG 18:1</text>
<text x="627.3" y="222.74">LysoPI 18:0</text>
<text x="627.3" y="227.93">LysoPI 18:1</text>
<text x="627.3" y="233.12">LysoPS 18:0</text>
<text x="627.3" y="238.30">LysoPS 18:1</text>
<text x="627.3" y="243.49">PC 14:0_16:0</text>
<text x="627.3" y="248.67">PC 16:0_16:0</text>
<text x="627.3" y="253.86">PC 16:0_16:1&amp;18:1_14:0</text>
<text x="627.3" y="259.04">PC 16:1_16:1</text>
<text x="627.3" y="264.23">PC 16:0_18:0</text>
<text x="627.3" y="269.41">PC 16:0_18:1</text>
<text x="627.3" y="274.60">PC 18:1_16:1</text>
<text x="627.3" y="279.79">PC 18:0_18:1</text>
<text x="627.3" y="284.97">PC 18:1_18:1</text>
<text x="627.3" y="290.16">PC 18:1_18:2</text>
<text x="627.3" y="295.34">PC 16:0_20:4</text>
<text x="627.3" y="300.53">PC 16:0_20:5</text>
<text x="627.3" y="305.71">PC 20:1_18:1</text>
<text x="627.3" y="310.90">PC 18:0_20:4</text>
<text x="627.3" y="316.08">PC 18:1_20:3</text>
<text x="627.3" y="321.27">PC 18:1_20:4</text>
<text x="627.3" y="326.46">PC 18:1_20:5</text>
<text x="627.3" y="331.64">PC 16:0_22:6</text>
<text x="627.3" y="336.83">PC 18:2_20:5</text>
<text x="627.3" y="342.01">PC 16:0_24:4&amp;18:1_20:4</text>
<text x="627.3" y="347.20">PC 18:0_22:5</text>
<text x="627.3" y="352.38">PC 18:1_22:5</text>
<text x="627.3" y="357.57">PC 18:1_22:6</text>
<text x="627.3" y="362.75">PC 22:6_20:4</text>
<text x="627.3" y="367.94">PC 18:1_24:5</text>
<text x="627.3" y="373.13">PC O-16:0_20:4</text>
<text x="627.3" y="378.31">PC O-16:1_20:4 or P-16:0_20:4</text>
<text x="627.3" y="383.50">PC O-16:1_22:6 or P-16:0_22:6</text>
<text x="627.3" y="388.68">PE 16:0_18:1</text>
<text x="627.3" y="393.87">PE 18:1_16:1</text>
<text x="627.3" y="399.05">PE 18:0_18:1</text>
<text x="627.3" y="404.24">PE 18:1_18:1</text>
<text x="627.3" y="409.42">PE 18:1_18:2</text>
<text x="627.3" y="414.61">PE 16:0_20:4</text>
<text x="627.3" y="419.80">PE 18:0_20:4</text>
<text x="627.3" y="424.98">PE 18:1_20:4</text>
<text x="627.3" y="430.17">PE 18:1_20:5</text>
<text x="627.3" y="435.35">PE 20:1_20:4&amp;18:0_22:5</text>
<text x="627.3" y="440.54">PE 18:0_22:6</text>
<text x="627.3" y="445.72">PE 18:1_22:5</text>
<text x="627.3" y="450.91">PE 18:1_22:6</text>
<text x="627.3" y="456.09">PE 22:6_20:4</text>
<text x="627.3" y="461.28">PE P-16:0_20:4</text>
<text x="627.3" y="466.47">PE P-16:0_22:6</text>
<text x="627.3" y="471.65">PE P-18:0_20:4</text>
<text x="627.3" y="476.84">PE P-18:0_22:5&amp;P-18:1_20:4</text>
<text x="627.3" y="482.02">PE P-18:1_20:5</text>
<text x="627.3" y="487.21">PE P-18:0_22:5</text>
<text x="627.3" y="492.39">PE P-18:1_22:6</text>
<text x="627.3" y="497.58">PG 16:0_16:1</text>
<text x="627.3" y="502.76">PG 16:0_18:1</text>
<text x="627.3" y="507.95">PG 22:6_18:1</text>
<text x="627.3" y="513.14">PG 22:6_18:2</text>
<text x="627.3" y="518.32">PI 16:0_20:4</text>
<text x="627.3" y="523.51">PI 18:0_20:4</text>
</g>
<defs><linearGradient id="cb" x1="0" x2="1" y1="0" y2="0"><stop offset="0" stop-color="#0000ff"/><stop offset="0.5" stop-color="#ffffff"/><stop offset="1" stop-color="#ff0000"/></linearGradient></defs>
<rect x="438.00" y="531.70" width="189.70" height="1.90" fill="url(#cb)" />
<text x="438.0" y="538.8" font-size="4.6" fill="#222" stroke="#222" stroke-width="0.0">-4.0</text>
<text x="533.0" y="538.8" font-size="4.6" text-anchor="middle" fill="#222" stroke="#222" stroke-width="0.0">-0.0</text>
<text x="627.7" y="538.8" font-size="4.6" text-anchor="end" fill="#222" stroke="#222" stroke-width="0.0">4.0</text>
</g>
</svg>
</body></html>
